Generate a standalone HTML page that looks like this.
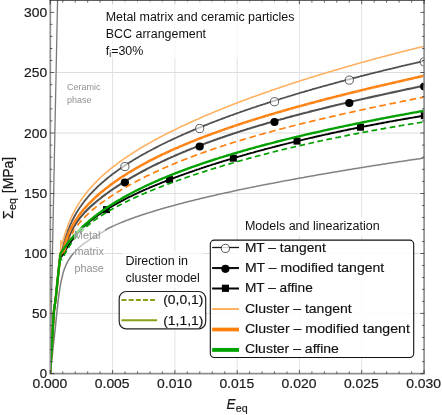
<!DOCTYPE html>
<html><head><meta charset="utf-8"><title>chart</title><style>html,body{margin:0;padding:0;background:#fff}body{width:442px;height:415px;overflow:hidden;font-family:"Liberation Sans",sans-serif}</style></head><body>
<svg width="442" height="415" viewBox="0 0 442 415" style="position:absolute;left:0;top:0;display:block;will-change:transform;font-family:'Liberation Sans',sans-serif">
<rect width="442" height="415" fill="#fff"/>
<defs><clipPath id="c"><rect x="50.2" y="0" width="374.3" height="373.6"/></clipPath></defs>
<path d="M112.6,0V373.5M174.9,0V373.5M237.2,0V373.5M299.4,0V373.5M361.7,0V373.5" stroke="#e2e2e2" stroke-width="1" fill="none"/>
<path d="M50.5,72.5H424.5M50.5,133.0H424.5M50.5,193.5H424.5M50.5,253.5H424.5M50.5,313.4H424.5" stroke="#dedede" stroke-width="1" fill="none"/>
<g clip-path="url(#c)" fill="none" stroke-linejoin="round">
<path d="M50.0,373.6L57.6,-2" stroke="#7a7a7a" stroke-width="1.3"/>
<path d="M50.2,373.6 L50.3,372.4 L50.5,371.1 L50.6,369.9 L50.8,368.6 L50.9,367.4 L51.0,366.1 L51.2,364.9 L51.3,363.7 L51.5,362.4 L51.6,361.2 L51.7,359.9 L51.9,358.7 L52.0,357.4 L52.1,356.2 L52.3,354.9 L52.4,353.7 L52.6,352.5 L52.7,351.2 L52.8,350.0 L53.0,348.7 L53.1,347.5 L53.3,346.2 L53.4,345.0 L53.5,343.8 L53.7,342.5 L53.8,341.3 L53.9,340.0 L54.1,338.8 L54.2,337.5 L54.4,336.3 L54.5,335.0 L54.6,333.8 L54.8,332.6 L54.9,331.3 L55.0,330.1 L55.2,328.8 L55.3,327.6 L55.4,326.3 L55.6,325.1 L55.7,323.8 L55.8,322.6 L55.9,321.4 L56.1,320.1 L56.2,318.9 L56.3,317.6 L56.4,316.4 L56.6,315.1 L56.7,313.9 L56.8,312.6 L57.0,311.4 L57.1,310.1 L57.2,308.9 L57.4,307.7 L57.5,306.4 L57.7,305.2 L57.8,303.9 L57.9,302.7 L58.1,301.4 L58.2,300.2 L58.4,299.0 L58.5,297.7 L58.7,296.5 L58.9,295.2 L59.0,294.0 L59.2,292.8 L59.4,291.5 L59.6,290.3 L59.8,289.0 L59.9,287.8 L60.1,286.6 L60.4,285.3 L60.6,284.1 L60.8,282.9 L61.1,281.7 L61.3,280.4 L61.6,279.2 L61.9,278.0 L62.2,276.8 L62.5,275.5 L62.8,274.3 L63.1,273.1 L63.4,271.9 L63.8,270.7 L64.2,269.5 L64.6,268.4 L65.1,267.2 L65.6,266.0 L66.1,264.9 L66.6,263.8 L67.2,262.6 L67.7,261.5 L68.4,260.4 L69.0,259.4 L69.7,258.3 L70.4,257.3 L71.1,256.3 L71.9,255.3 L72.7,254.3 L73.5,253.4 L74.3,252.4 L75.2,251.5 L76.0,250.6 L76.9,249.6 L77.8,248.8 L78.7,247.9 L79.6,247.1 L80.5,246.2 L81.5,245.5 L82.5,244.7 L83.5,243.9 L84.5,243.2 L85.5,242.5 L86.6,241.8 L87.6,241.1 L88.6,240.4 L89.7,239.7 L90.8,239.0 L91.8,238.4 L92.9,237.8 L94.0,237.2 L95.1,236.6 L96.2,236.0 L97.3,235.4 L98.4,234.7 L99.5,234.1 L100.5,233.4 L101.5,232.7 L102.6,232.0 L103.6,231.3 L104.7,230.6 L105.7,229.9 L106.8,229.2 L107.9,228.6 L109.0,228.0 L110.1,227.5 L111.2,227.0 L112.4,226.4 L113.5,225.9 L114.6,225.4 L115.8,224.9 L116.9,224.4 L118.1,223.9 L119.2,223.4 L120.4,222.9 L121.5,222.4 L122.7,222.0 L123.9,221.5 L125.0,221.0 L126.2,220.6 L127.4,220.1 L128.5,219.7 L129.7,219.3 L130.9,218.8 L132.0,218.4 L133.2,218.0 L134.4,217.5 L135.6,217.1 L136.8,216.7 L137.9,216.3 L139.1,215.9 L140.3,215.5 L141.5,215.1 L142.7,214.7 L143.9,214.3 L145.1,213.9 L146.3,213.5 L147.4,213.1 L148.6,212.8 L149.8,212.4 L151.0,212.0 L152.2,211.7 L153.4,211.3 L154.6,210.9 L155.8,210.6 L157.0,210.2 L158.2,209.8 L159.4,209.5 L160.6,209.1 L161.8,208.8 L163.0,208.4 L164.2,208.1 L165.4,207.7 L166.6,207.4 L167.8,207.1 L169.0,206.7 L170.2,206.4 L171.5,206.1 L172.7,205.7 L173.9,205.4 L175.1,205.1 L176.3,204.7 L177.5,204.4 L178.7,204.1 L179.9,203.8 L181.1,203.5 L182.3,203.2 L183.5,202.8 L184.8,202.5 L186.0,202.2 L187.2,201.9 L188.4,201.6 L189.6,201.3 L190.8,201.0 L192.0,200.7 L193.2,200.4 L194.5,200.1 L195.7,199.8 L196.9,199.5 L198.1,199.2 L199.3,198.9 L200.5,198.6 L201.8,198.3 L203.0,198.0 L204.2,197.7 L205.4,197.4 L206.6,197.1 L207.8,196.9 L209.1,196.6 L210.3,196.3 L211.5,196.0 L212.7,195.7 L213.9,195.5 L215.2,195.2 L216.4,194.9 L217.6,194.6 L218.8,194.3 L220.0,194.1 L221.3,193.8 L222.5,193.5 L223.7,193.3 L224.9,193.0 L226.2,192.7 L227.4,192.5 L228.6,192.2 L229.8,191.9 L231.0,191.7 L232.3,191.4 L233.5,191.1 L234.7,190.9 L235.9,190.6 L237.2,190.3 L238.4,190.1 L239.6,189.8 L240.8,189.6 L242.1,189.3 L243.3,189.1 L244.5,188.8 L245.7,188.6 L247.0,188.3 L248.2,188.0 L249.4,187.8 L250.6,187.5 L251.9,187.3 L253.1,187.0 L254.3,186.8 L255.5,186.6 L256.8,186.3 L258.0,186.1 L259.2,185.8 L260.5,185.6 L261.7,185.3 L262.9,185.1 L264.1,184.8 L265.4,184.6 L266.6,184.4 L267.8,184.1 L269.1,183.9 L270.3,183.6 L271.5,183.4 L272.7,183.2 L274.0,182.9 L275.2,182.7 L276.4,182.5 L277.7,182.2 L278.9,182.0 L280.1,181.8 L281.3,181.5 L282.6,181.3 L283.8,181.1 L285.0,180.8 L286.3,180.6 L287.5,180.4 L288.7,180.2 L290.0,179.9 L291.2,179.7 L292.4,179.5 L293.6,179.2 L294.9,179.0 L296.1,178.8 L297.3,178.6 L298.6,178.3 L299.8,178.1 L301.0,177.9 L302.3,177.7 L303.5,177.5 L304.7,177.2 L306.0,177.0 L307.2,176.8 L308.4,176.6 L309.7,176.4 L310.9,176.1 L312.1,175.9 L313.4,175.7 L314.6,175.5 L315.8,175.3 L317.1,175.1 L318.3,174.8 L319.5,174.6 L320.8,174.4 L322.0,174.2 L323.2,174.0 L324.5,173.8 L325.7,173.6 L326.9,173.4 L328.2,173.1 L329.4,172.9 L330.6,172.7 L331.9,172.5 L333.1,172.3 L334.3,172.1 L335.6,171.9 L336.8,171.7 L338.0,171.5 L339.3,171.3 L340.5,171.1 L341.7,170.9 L343.0,170.6 L344.2,170.4 L345.4,170.2 L346.7,170.0 L347.9,169.8 L349.1,169.6 L350.4,169.4 L351.6,169.2 L352.8,169.0 L354.1,168.8 L355.3,168.6 L356.5,168.4 L357.8,168.2 L359.0,168.0 L360.3,167.8 L361.5,167.6 L362.7,167.4 L364.0,167.2 L365.2,167.0 L366.4,166.8 L367.7,166.6 L368.9,166.4 L370.1,166.2 L371.4,166.0 L372.6,165.8 L373.8,165.6 L375.1,165.5 L376.3,165.3 L377.6,165.1 L378.8,164.9 L380.0,164.7 L381.3,164.5 L382.5,164.3 L383.7,164.1 L385.0,163.9 L386.2,163.7 L387.4,163.5 L388.7,163.3 L389.9,163.1 L391.2,163.0 L392.4,162.8 L393.6,162.6 L394.9,162.4 L396.1,162.2 L397.3,162.0 L398.6,161.8 L399.8,161.6 L401.1,161.4 L402.3,161.3 L403.5,161.1 L404.8,160.9 L406.0,160.7 L407.2,160.5 L408.5,160.3 L409.7,160.1 L411.0,160.0 L412.2,159.8 L413.4,159.6 L414.7,159.4 L415.9,159.2 L417.1,159.0 L418.4,158.9 L419.6,158.7 L420.9,158.5 L422.1,158.3 L423.3,158.1 L424.6,157.9 L425.8,157.8 L427.0,157.6 L428.3,157.4 L429.5,157.2 L430.8,157.0 L432.0,156.9" stroke="#828282" stroke-width="1.55"/>
<path d="M50.2,373.6 L50.3,372.5 L50.3,371.3 L50.4,370.2 L50.5,369.1 L50.5,367.9 L50.6,366.8 L50.7,365.7 L50.7,364.6 L50.8,363.4 L50.9,362.3 L50.9,361.2 L51.0,360.0 L51.1,358.9 L51.1,357.8 L51.2,356.6 L51.3,355.5 L51.3,354.4 L51.4,353.2 L51.5,352.1 L51.5,351.0 L51.6,349.8 L51.7,348.7 L51.7,347.6 L51.8,346.5 L51.9,345.3 L51.9,344.2 L52.0,343.1 L52.1,341.9 L52.2,340.8 L52.2,339.7 L52.3,338.5 L52.4,337.4 L52.4,336.3 L52.5,335.1 L52.5,334.0 L52.6,332.9 L52.7,331.7 L52.7,330.6 L52.8,329.5 L52.8,328.3 L52.9,327.2 L53.0,326.1 L53.0,324.9 L53.1,323.8 L53.2,322.7 L53.2,321.6 L53.3,320.4 L53.4,319.3 L53.4,318.2 L53.5,317.0 L53.6,315.9 L53.7,314.8 L53.8,313.6 L53.9,312.5 L54.0,311.4 L54.1,310.3 L54.2,309.1 L54.3,308.0 L54.5,306.9 L54.7,305.8 L54.8,304.7 L55.0,303.5 L55.2,302.4 L55.3,301.3 L55.5,300.2 L55.6,299.0 L55.7,297.9 L55.9,296.8 L56.0,295.7 L56.1,294.5 L56.2,293.4 L56.3,292.3 L56.5,291.2 L56.6,290.0 L56.7,288.9 L56.8,287.8 L56.9,286.6 L57.0,285.5 L57.2,284.4 L57.3,283.3 L57.4,282.1 L57.5,281.0 L57.6,279.9 L57.8,278.8 L57.9,277.6 L58.0,276.5 L58.1,275.4 L58.2,274.2 L58.4,273.1 L58.5,272.0 L58.6,270.9 L58.7,269.7 L58.8,268.6 L59.0,267.5 L59.1,266.4 L59.2,265.2 L59.3,264.1 L59.5,263.0 L59.6,261.9 L59.7,260.7 L59.8,259.6 L59.9,258.4 L60.0,257.1 L60.1,255.8 L60.3,254.7 L60.5,253.8 L61.1,253.2 L61.5,252.1 L61.8,251.0 L62.1,249.9 L62.4,248.8 L62.7,247.7 L63.0,246.6 L63.3,245.5 L63.6,244.4 L63.9,243.3 L64.2,242.2 L64.5,241.1 L64.8,240.1 L65.1,239.0 L65.5,237.9 L65.8,236.8 L66.2,235.7 L66.5,234.6 L66.9,233.6 L67.3,232.5 L67.6,231.4 L68.0,230.4 L68.4,229.3 L68.9,228.3 L69.3,227.2 L69.7,226.2 L70.2,225.1 L70.6,224.1 L71.1,223.1 L71.6,222.0 L72.0,221.0 L72.5,220.0 L73.1,219.0 L73.6,218.0 L74.1,217.0 L74.6,216.0 L75.2,215.0 L75.8,214.0 L76.3,213.0 L76.9,212.1 L77.5,211.1 L78.1,210.1 L78.7,209.2 L79.3,208.2 L80.0,207.3 L80.6,206.4 L81.3,205.4 L81.9,204.5 L82.6,203.6 L83.3,202.7 L84.0,201.8 L84.7,200.9 L85.4,200.0 L86.1,199.1 L86.8,198.3 L87.5,197.4 L88.3,196.5 L89.0,195.7 L89.8,194.8 L90.5,194.0 L91.3,193.2 L92.1,192.3 L92.9,191.5 L93.7,190.7 L94.5,189.9 L95.3,189.1 L96.1,188.3 L96.9,187.5 L97.7,186.7 L98.5,185.9 L99.4,185.2 L100.2,184.4 L101.0,183.7 L101.9,182.9 L102.7,182.2 L103.6,181.4 L104.5,180.7 L105.3,180.0 L106.2,179.2 L107.1,178.5 L107.9,177.8 L108.8,177.1 L109.7,176.4 L110.6,175.7 L111.5,175.0 L112.4,174.3 L113.3,173.6 L114.2,173.0 L115.1,172.3 L116.1,171.6 L117.0,170.9 L117.9,170.3 L118.8,169.6 L119.7,169.0 L120.7,168.3 L121.6,167.7 L122.6,167.1 L123.5,166.4 L124.4,165.8 L125.4,165.2 L126.3,164.6 L127.3,163.9 L128.2,163.3 L129.2,162.7 L130.1,162.1 L131.1,161.5 L132.1,160.9 L133.0,160.3 L134.0,159.7 L135.0,159.1 L135.9,158.6 L136.9,158.0 L137.9,157.4 L138.9,156.8 L139.9,156.3 L140.8,155.7 L141.8,155.1 L142.8,154.6 L143.8,154.0 L144.8,153.5 L145.8,152.9 L146.8,152.4 L147.8,151.8 L148.8,151.3 L149.8,150.8 L150.8,150.2 L151.8,149.7 L152.8,149.2 L153.8,148.6 L154.8,148.1 L155.8,147.6 L156.8,147.1 L157.8,146.6 L158.8,146.0 L159.8,145.5 L160.8,145.0 L161.8,144.5 L162.8,144.0 L163.9,143.5 L164.9,143.0 L165.9,142.5 L166.9,142.0 L167.9,141.5 L169.0,141.0 L170.0,140.6 L171.0,140.1 L172.0,139.6 L173.1,139.1 L174.1,138.6 L175.1,138.2 L176.2,137.7 L177.2,137.2 L178.2,136.7 L179.2,136.3 L180.3,135.8 L181.3,135.4 L182.3,134.9 L183.4,134.4 L184.4,134.0 L185.5,133.5 L186.5,133.1 L187.5,132.6 L188.6,132.2 L189.6,131.7 L190.7,131.3 L191.7,130.8 L192.7,130.4 L193.8,129.9 L194.8,129.5 L195.9,129.1 L196.9,128.6 L198.0,128.2 L199.0,127.8 L200.1,127.3 L201.1,126.9 L202.2,126.5 L203.2,126.1 L204.3,125.6 L205.3,125.2 L206.4,124.8 L207.4,124.4 L208.5,124.0 L209.5,123.5 L210.6,123.1 L211.6,122.7 L212.7,122.3 L213.8,121.9 L214.8,121.5 L215.9,121.1 L216.9,120.7 L218.0,120.3 L219.0,119.9 L220.1,119.5 L221.2,119.1 L222.2,118.7 L223.3,118.3 L224.4,117.9 L225.4,117.5 L226.5,117.1 L227.5,116.7 L228.6,116.3 L229.7,115.9 L230.7,115.5 L231.8,115.2 L232.9,114.8 L233.9,114.4 L235.0,114.0 L236.1,113.6 L237.1,113.2 L238.2,112.9 L239.3,112.5 L240.3,112.1 L241.4,111.7 L242.5,111.4 L243.5,111.0 L244.6,110.6 L245.7,110.2 L246.8,109.9 L247.8,109.5 L248.9,109.1 L250.0,108.8 L251.0,108.4 L252.1,108.0 L253.2,107.7 L254.3,107.3 L255.3,107.0 L256.4,106.6 L257.5,106.2 L258.6,105.9 L259.6,105.5 L260.7,105.2 L261.8,104.8 L262.9,104.5 L263.9,104.1 L265.0,103.8 L266.1,103.4 L267.2,103.1 L268.3,102.7 L269.3,102.4 L270.4,102.0 L271.5,101.7 L272.6,101.3 L273.7,101.0 L274.7,100.7 L275.8,100.3 L276.9,100.0 L278.0,99.6 L279.1,99.3 L280.1,99.0 L281.2,98.6 L282.3,98.3 L283.4,98.0 L284.5,97.6 L285.6,97.3 L286.6,97.0 L287.7,96.6 L288.8,96.3 L289.9,96.0 L291.0,95.6 L292.1,95.3 L293.1,95.0 L294.2,94.7 L295.3,94.3 L296.4,94.0 L297.5,93.7 L298.6,93.4 L299.7,93.0 L300.7,92.7 L301.8,92.4 L302.9,92.1 L304.0,91.8 L305.1,91.4 L306.2,91.1 L307.3,90.8 L308.4,90.5 L309.5,90.2 L310.5,89.9 L311.6,89.6 L312.7,89.2 L313.8,88.9 L314.9,88.6 L316.0,88.3 L317.1,88.0 L318.2,87.7 L319.3,87.4 L320.3,87.1 L321.4,86.8 L322.5,86.5 L323.6,86.2 L324.7,85.9 L325.8,85.6 L326.9,85.3 L328.0,85.0 L329.1,84.7 L330.2,84.4 L331.3,84.1 L332.4,83.8 L333.5,83.5 L334.5,83.2 L335.6,82.9 L336.7,82.6 L337.8,82.3 L338.9,82.0 L340.0,81.7 L341.1,81.4 L342.2,81.1 L343.3,80.8 L344.4,80.5 L345.5,80.2 L346.6,79.9 L347.7,79.6 L348.8,79.4 L349.9,79.1 L351.0,78.8 L352.1,78.5 L353.2,78.2 L354.3,77.9 L355.4,77.6 L356.5,77.4 L357.5,77.1 L358.6,76.8 L359.7,76.5 L360.8,76.2 L361.9,75.9 L363.0,75.7 L364.1,75.4 L365.2,75.1 L366.3,74.8 L367.4,74.5 L368.5,74.3 L369.6,74.0 L370.7,73.7 L371.8,73.4 L372.9,73.2 L374.0,72.9 L375.1,72.6 L376.2,72.3 L377.3,72.1 L378.4,71.8 L379.5,71.5 L380.6,71.3 L381.7,71.0 L382.8,70.7 L383.9,70.4 L385.0,70.2 L386.1,69.9 L387.2,69.6 L388.3,69.4 L389.4,69.1 L390.5,68.8 L391.6,68.6 L392.7,68.3 L393.8,68.0 L394.9,67.8 L396.0,67.5 L397.1,67.3 L398.2,67.0 L399.3,66.7 L400.4,66.5 L401.5,66.2 L402.7,65.9 L403.8,65.7 L404.9,65.4 L406.0,65.2 L407.1,64.9 L408.2,64.6 L409.3,64.4 L410.4,64.1 L411.5,63.9 L412.6,63.6 L413.7,63.4 L414.8,63.1 L415.9,62.9 L417.0,62.6 L418.1,62.3 L419.2,62.1 L420.3,61.8 L421.4,61.6 L422.5,61.3 L423.6,61.1 L424.7,60.8 L425.8,60.6 L426.9,60.3 L428.0,60.1 L429.2,59.8 L430.3,59.6 L431.4,59.3 L432.5,59.1 L433.6,58.8 L434.7,58.6 L435.8,58.4 L436.9,58.1 L438.0,57.9" stroke="#505050" stroke-width="1.8"/>
<path d="M50.2,373.6 L50.3,372.5 L50.3,371.4 L50.4,370.3 L50.5,369.2 L50.5,368.1 L50.6,367.0 L50.7,365.9 L50.7,364.8 L50.8,363.7 L50.8,362.6 L50.9,361.5 L51.0,360.4 L51.0,359.3 L51.1,358.2 L51.2,357.1 L51.2,356.0 L51.3,354.9 L51.4,353.8 L51.4,352.7 L51.5,351.6 L51.6,350.5 L51.6,349.4 L51.7,348.3 L51.8,347.2 L51.8,346.1 L51.9,345.0 L52.0,343.9 L52.0,342.8 L52.1,341.7 L52.2,340.6 L52.2,339.5 L52.3,338.4 L52.4,337.3 L52.4,336.2 L52.5,335.1 L52.5,334.0 L52.6,332.9 L52.7,331.8 L52.7,330.7 L52.8,329.6 L52.8,328.5 L52.9,327.4 L53.0,326.3 L53.0,325.2 L53.1,324.1 L53.1,323.0 L53.2,321.9 L53.3,320.8 L53.3,319.7 L53.4,318.6 L53.5,317.5 L53.6,316.4 L53.6,315.3 L53.7,314.2 L53.8,313.1 L53.9,312.0 L54.0,310.9 L54.1,309.8 L54.3,308.7 L54.4,307.6 L54.6,306.5 L54.7,305.4 L54.9,304.3 L55.1,303.2 L55.2,302.1 L55.4,301.0 L55.5,299.9 L55.6,298.8 L55.8,297.8 L55.9,296.7 L56.0,295.6 L56.1,294.5 L56.2,293.4 L56.4,292.3 L56.5,291.2 L56.6,290.1 L56.7,289.0 L56.8,287.9 L56.9,286.8 L57.0,285.7 L57.1,284.6 L57.2,283.5 L57.4,282.4 L57.5,281.3 L57.6,280.2 L57.7,279.1 L57.8,278.0 L57.9,276.9 L58.1,275.8 L58.2,274.7 L58.3,273.6 L58.4,272.5 L58.5,271.4 L58.7,270.3 L58.8,269.2 L58.9,268.1 L59.0,267.0 L59.1,266.0 L59.3,264.9 L59.4,263.8 L59.5,262.7 L59.6,261.6 L59.7,260.5 L59.9,259.3 L60.0,257.9 L60.0,256.5 L60.1,255.2 L60.3,254.1 L60.5,253.5 L61.3,253.5 L62.4,253.4 L63.2,252.7 L63.8,251.7 L64.2,250.7 L64.6,249.7 L65.0,248.7 L65.3,247.6 L65.7,246.6 L66.0,245.5 L66.4,244.5 L66.7,243.4 L67.1,242.4 L67.5,241.3 L67.8,240.3 L68.2,239.3 L68.6,238.2 L69.0,237.2 L69.4,236.2 L69.8,235.2 L70.2,234.1 L70.7,233.1 L71.2,232.1 L71.6,231.1 L72.1,230.2 L72.6,229.2 L73.1,228.2 L73.7,227.2 L74.2,226.3 L74.8,225.3 L75.4,224.4 L76.0,223.5 L76.6,222.6 L77.2,221.6 L77.9,220.7 L78.5,219.9 L79.2,219.0 L79.8,218.1 L80.5,217.2 L81.2,216.4 L81.9,215.6 L82.7,214.7 L83.4,213.9 L84.1,213.1 L84.9,212.3 L85.7,211.5 L86.4,210.7 L87.2,209.9 L88.0,209.1 L88.8,208.4 L89.6,207.6 L90.4,206.8 L91.2,206.1 L92.0,205.4 L92.8,204.6 L93.7,203.9 L94.5,203.2 L95.3,202.5 L96.2,201.7 L97.0,201.0 L97.9,200.3 L98.7,199.6 L99.6,199.0 L100.5,198.3 L101.3,197.6 L102.2,196.9 L103.1,196.2 L104.0,195.6 L104.8,194.9 L105.7,194.3 L106.6,193.6 L107.5,193.0 L108.4,192.3 L109.3,191.7 L110.2,191.0 L111.1,190.4 L112.0,189.8 L112.9,189.2 L113.8,188.5 L114.7,187.9 L115.7,187.3 L116.6,186.7 L117.5,186.1 L118.4,185.5 L119.4,184.9 L120.3,184.3 L121.2,183.7 L122.1,183.1 L123.1,182.6 L124.0,182.0 L125.0,181.4 L125.9,180.8 L126.8,180.2 L127.8,179.7 L128.7,179.1 L129.7,178.5 L130.6,178.0 L131.6,177.4 L132.5,176.9 L133.5,176.3 L134.5,175.8 L135.4,175.2 L136.4,174.7 L137.3,174.2 L138.3,173.6 L139.3,173.1 L140.2,172.6 L141.2,172.0 L142.2,171.5 L143.1,171.0 L144.1,170.5 L145.1,170.0 L146.1,169.5 L147.0,168.9 L148.0,168.4 L149.0,167.9 L150.0,167.4 L151.0,166.9 L152.0,166.4 L152.9,165.9 L153.9,165.4 L154.9,165.0 L155.9,164.5 L156.9,164.0 L157.9,163.5 L158.9,163.0 L159.9,162.6 L160.9,162.1 L161.9,161.6 L162.9,161.1 L163.9,160.7 L164.9,160.2 L165.9,159.7 L166.9,159.3 L167.9,158.8 L168.9,158.4 L169.9,157.9 L170.9,157.5 L171.9,157.0 L172.9,156.6 L173.9,156.1 L174.9,155.7 L175.9,155.2 L176.9,154.8 L178.0,154.4 L179.0,153.9 L180.0,153.5 L181.0,153.1 L182.0,152.6 L183.0,152.2 L184.0,151.8 L185.1,151.4 L186.1,150.9 L187.1,150.5 L188.1,150.1 L189.1,149.7 L190.2,149.3 L191.2,148.9 L192.2,148.5 L193.2,148.1 L194.3,147.6 L195.3,147.2 L196.3,146.8 L197.4,146.4 L198.4,146.0 L199.4,145.7 L200.4,145.3 L201.5,144.9 L202.5,144.5 L203.5,144.1 L204.6,143.7 L205.6,143.3 L206.6,142.9 L207.7,142.5 L208.7,142.2 L209.7,141.8 L210.8,141.4 L211.8,141.0 L212.8,140.7 L213.9,140.3 L214.9,139.9 L216.0,139.6 L217.0,139.2 L218.0,138.8 L219.1,138.5 L220.1,138.1 L221.2,137.7 L222.2,137.4 L223.3,137.0 L224.3,136.7 L225.3,136.3 L226.4,135.9 L227.4,135.6 L228.5,135.2 L229.5,134.9 L230.6,134.5 L231.6,134.2 L232.7,133.8 L233.7,133.5 L234.8,133.2 L235.8,132.8 L236.9,132.5 L237.9,132.1 L239.0,131.8 L240.0,131.5 L241.1,131.1 L242.1,130.8 L243.2,130.5 L244.2,130.1 L245.3,129.8 L246.3,129.5 L247.4,129.1 L248.4,128.8 L249.5,128.5 L250.5,128.2 L251.6,127.8 L252.6,127.5 L253.7,127.2 L254.7,126.9 L255.8,126.6 L256.9,126.3 L257.9,125.9 L259.0,125.6 L260.0,125.3 L261.1,125.0 L262.1,124.7 L263.2,124.4 L264.3,124.1 L265.3,123.8 L266.4,123.4 L267.4,123.1 L268.5,122.8 L269.6,122.5 L270.6,122.2 L271.7,121.9 L272.7,121.6 L273.8,121.3 L274.9,121.0 L275.9,120.7 L277.0,120.4 L278.0,120.1 L279.1,119.8 L280.2,119.5 L281.2,119.2 L282.3,119.0 L283.4,118.7 L284.4,118.4 L285.5,118.1 L286.5,117.8 L287.6,117.5 L288.7,117.2 L289.7,116.9 L290.8,116.6 L291.9,116.4 L292.9,116.1 L294.0,115.8 L295.1,115.5 L296.1,115.2 L297.2,114.9 L298.3,114.7 L299.3,114.4 L300.4,114.1 L301.5,113.8 L302.5,113.6 L303.6,113.3 L304.7,113.0 L305.7,112.7 L306.8,112.5 L307.9,112.2 L308.9,111.9 L310.0,111.6 L311.1,111.4 L312.1,111.1 L313.2,110.8 L314.3,110.6 L315.4,110.3 L316.4,110.0 L317.5,109.7 L318.6,109.5 L319.6,109.2 L320.7,109.0 L321.8,108.7 L322.8,108.4 L323.9,108.2 L325.0,107.9 L326.1,107.6 L327.1,107.4 L328.2,107.1 L329.3,106.9 L330.3,106.6 L331.4,106.3 L332.5,106.1 L333.6,105.8 L334.6,105.6 L335.7,105.3 L336.8,105.0 L337.8,104.8 L338.9,104.5 L340.0,104.3 L341.1,104.0 L342.1,103.8 L343.2,103.5 L344.3,103.3 L345.4,103.0 L346.4,102.8 L347.5,102.5 L348.6,102.3 L349.7,102.0 L350.7,101.8 L351.8,101.5 L352.9,101.3 L354.0,101.0 L355.0,100.8 L356.1,100.5 L357.2,100.3 L358.3,100.0 L359.3,99.8 L360.4,99.5 L361.5,99.3 L362.6,99.0 L363.6,98.8 L364.7,98.6 L365.8,98.3 L366.9,98.1 L367.9,97.8 L369.0,97.6 L370.1,97.4 L371.2,97.1 L372.2,96.9 L373.3,96.6 L374.4,96.4 L375.5,96.1 L376.5,95.9 L377.6,95.7 L378.7,95.4 L379.8,95.2 L380.8,95.0 L381.9,94.7 L383.0,94.5 L384.1,94.2 L385.2,94.0 L386.2,93.8 L387.3,93.5 L388.4,93.3 L389.5,93.1 L390.5,92.8 L391.6,92.6 L392.7,92.4 L393.8,92.1 L394.8,91.9 L395.9,91.7 L397.0,91.4 L398.1,91.2 L399.2,91.0 L400.2,90.7 L401.3,90.5 L402.4,90.3 L403.5,90.0 L404.5,89.8 L405.6,89.6 L406.7,89.3 L407.8,89.1 L408.9,88.9 L409.9,88.7 L411.0,88.4 L412.1,88.2 L413.2,88.0 L414.3,87.7 L415.3,87.5 L416.4,87.3 L417.5,87.1 L418.6,86.8 L419.7,86.6 L420.7,86.4 L421.8,86.2 L422.9,85.9 L424.0,85.7 L425.0,85.5 L426.1,85.2 L427.2,85.0 L428.3,84.8 L429.4,84.6 L430.4,84.3 L431.5,84.1 L432.6,83.9 L433.7,83.7 L434.8,83.4 L435.8,83.2 L436.9,83.0 L438.0,82.8" stroke="#505050" stroke-width="2.1"/>
<path d="M50.2,373.6 L50.3,372.5 L50.3,371.5 L50.4,370.4 L50.4,369.4 L50.5,368.3 L50.6,367.2 L50.6,366.2 L50.7,365.1 L50.8,364.0 L50.8,363.0 L50.9,361.9 L50.9,360.9 L51.0,359.8 L51.1,358.7 L51.1,357.7 L51.2,356.6 L51.3,355.5 L51.3,354.5 L51.4,353.4 L51.5,352.4 L51.5,351.3 L51.6,350.2 L51.6,349.2 L51.7,348.1 L51.8,347.1 L51.8,346.0 L51.9,344.9 L52.0,343.9 L52.0,342.8 L52.1,341.7 L52.2,340.7 L52.2,339.6 L52.3,338.6 L52.3,337.5 L52.4,336.4 L52.5,335.4 L52.5,334.3 L52.6,333.2 L52.6,332.2 L52.7,331.1 L52.7,330.1 L52.8,329.0 L52.9,327.9 L52.9,326.9 L53.0,325.8 L53.0,324.7 L53.1,323.7 L53.2,322.6 L53.2,321.6 L53.3,320.5 L53.4,319.4 L53.4,318.4 L53.5,317.3 L53.6,316.3 L53.7,315.2 L53.7,314.1 L53.8,313.1 L53.9,312.0 L54.0,311.0 L54.1,309.9 L54.2,308.9 L54.4,307.8 L54.5,306.7 L54.7,305.7 L54.8,304.6 L55.0,303.6 L55.2,302.5 L55.3,301.5 L55.4,300.4 L55.6,299.4 L55.7,298.3 L55.8,297.3 L55.9,296.2 L56.0,295.1 L56.2,294.1 L56.3,293.0 L56.4,292.0 L56.5,290.9 L56.6,289.9 L56.7,288.8 L56.8,287.7 L56.9,286.7 L57.0,285.6 L57.1,284.6 L57.2,283.5 L57.4,282.4 L57.5,281.4 L57.6,280.3 L57.7,279.3 L57.8,278.2 L57.9,277.2 L58.0,276.1 L58.1,275.0 L58.2,274.0 L58.3,272.9 L58.5,271.9 L58.6,270.8 L58.7,269.8 L58.8,268.7 L59.0,267.6 L59.1,266.5 L59.2,265.4 L59.3,264.2 L59.4,263.1 L59.5,262.0 L59.6,260.9 L59.8,259.9 L60.0,258.9 L60.3,258.0 L60.8,257.2 L61.6,256.5 L62.2,255.7 L62.8,254.8 L63.4,253.9 L63.9,253.0 L64.4,252.1 L65.0,251.1 L65.5,250.2 L66.0,249.3 L66.6,248.4 L67.1,247.5 L67.7,246.6 L68.2,245.7 L68.8,244.8 L69.4,243.9 L70.0,243.0 L70.6,242.1 L71.2,241.2 L71.8,240.4 L72.4,239.5 L73.1,238.7 L73.7,237.8 L74.4,237.0 L75.0,236.2 L75.7,235.3 L76.4,234.5 L77.1,233.7 L77.8,232.9 L78.5,232.1 L79.2,231.3 L80.0,230.6 L80.7,229.8 L81.5,229.1 L82.2,228.3 L83.0,227.6 L83.7,226.8 L84.5,226.1 L85.3,225.4 L86.1,224.7 L86.9,224.0 L87.7,223.3 L88.5,222.6 L89.3,221.9 L90.1,221.2 L91.0,220.5 L91.8,219.9 L92.6,219.2 L93.5,218.6 L94.3,217.9 L95.2,217.3 L96.0,216.7 L96.9,216.0 L97.8,215.4 L98.6,214.8 L99.5,214.2 L100.4,213.6 L101.3,213.0 L102.1,212.4 L103.0,211.8 L103.9,211.3 L104.8,210.7 L105.7,210.1 L106.6,209.5 L107.5,209.0 L108.4,208.4 L109.3,207.9 L110.2,207.3 L111.2,206.8 L112.1,206.2 L113.0,205.7 L113.9,205.2 L114.8,204.7 L115.8,204.1 L116.7,203.6 L117.6,203.1 L118.6,202.6 L119.5,202.1 L120.4,201.6 L121.4,201.1 L122.3,200.6 L123.3,200.1 L124.2,199.6 L125.1,199.1 L126.1,198.6 L127.0,198.2 L128.0,197.7 L128.9,197.2 L129.9,196.7 L130.9,196.3 L131.8,195.8 L132.8,195.3 L133.7,194.9 L134.7,194.4 L135.7,194.0 L136.6,193.5 L137.6,193.1 L138.5,192.6 L139.5,192.2 L140.5,191.7 L141.4,191.3 L142.4,190.9 L143.4,190.4 L144.4,190.0 L145.3,189.6 L146.3,189.1 L147.3,188.7 L148.3,188.3 L149.2,187.9 L150.2,187.4 L151.2,187.0 L152.2,186.6 L153.2,186.2 L154.1,185.8 L155.1,185.4 L156.1,185.0 L157.1,184.6 L158.1,184.2 L159.1,183.8 L160.0,183.4 L161.0,183.0 L162.0,182.6 L163.0,182.2 L164.0,181.8 L165.0,181.4 L166.0,181.0 L167.0,180.6 L168.0,180.2 L168.9,179.9 L169.9,179.5 L170.9,179.1 L171.9,178.7 L172.9,178.3 L173.9,178.0 L174.9,177.6 L175.9,177.2 L176.9,176.8 L177.9,176.5 L178.9,176.1 L179.9,175.7 L180.9,175.4 L181.9,175.0 L182.9,174.7 L183.9,174.3 L184.9,173.9 L185.9,173.6 L186.9,173.2 L187.9,172.9 L188.9,172.5 L189.9,172.2 L190.9,171.8 L191.9,171.5 L192.9,171.1 L193.9,170.8 L194.9,170.4 L195.9,170.1 L196.9,169.7 L198.0,169.4 L199.0,169.1 L200.0,168.7 L201.0,168.4 L202.0,168.0 L203.0,167.7 L204.0,167.4 L205.0,167.0 L206.0,166.7 L207.0,166.4 L208.0,166.0 L209.1,165.7 L210.1,165.4 L211.1,165.1 L212.1,164.7 L213.1,164.4 L214.1,164.1 L215.1,163.8 L216.2,163.4 L217.2,163.1 L218.2,162.8 L219.2,162.5 L220.2,162.2 L221.2,161.9 L222.2,161.5 L223.3,161.2 L224.3,160.9 L225.3,160.6 L226.3,160.3 L227.3,160.0 L228.3,159.7 L229.4,159.4 L230.4,159.1 L231.4,158.8 L232.4,158.5 L233.4,158.2 L234.5,157.9 L235.5,157.5 L236.5,157.2 L237.5,157.0 L238.5,156.7 L239.6,156.4 L240.6,156.1 L241.6,155.8 L242.6,155.5 L243.7,155.2 L244.7,154.9 L245.7,154.6 L246.7,154.3 L247.7,154.0 L248.8,153.7 L249.8,153.4 L250.8,153.1 L251.8,152.9 L252.9,152.6 L253.9,152.3 L254.9,152.0 L255.9,151.7 L257.0,151.4 L258.0,151.2 L259.0,150.9 L260.0,150.6 L261.1,150.3 L262.1,150.1 L263.1,149.8 L264.2,149.5 L265.2,149.2 L266.2,148.9 L267.2,148.7 L268.3,148.4 L269.3,148.1 L270.3,147.9 L271.4,147.6 L272.4,147.3 L273.4,147.1 L274.4,146.8 L275.5,146.5 L276.5,146.3 L277.5,146.0 L278.6,145.7 L279.6,145.5 L280.6,145.2 L281.7,144.9 L282.7,144.7 L283.7,144.4 L284.7,144.2 L285.8,143.9 L286.8,143.6 L287.8,143.4 L288.9,143.1 L289.9,142.9 L290.9,142.6 L292.0,142.4 L293.0,142.1 L294.0,141.9 L295.1,141.6 L296.1,141.4 L297.1,141.1 L298.2,140.9 L299.2,140.6 L300.2,140.4 L301.3,140.1 L302.3,139.9 L303.3,139.6 L304.4,139.4 L305.4,139.1 L306.5,138.9 L307.5,138.7 L308.5,138.4 L309.6,138.2 L310.6,137.9 L311.6,137.7 L312.7,137.5 L313.7,137.2 L314.7,137.0 L315.8,136.7 L316.8,136.5 L317.9,136.3 L318.9,136.0 L319.9,135.8 L321.0,135.6 L322.0,135.3 L323.0,135.1 L324.1,134.9 L325.1,134.6 L326.2,134.4 L327.2,134.2 L328.2,134.0 L329.3,133.7 L330.3,133.5 L331.4,133.3 L332.4,133.0 L333.4,132.8 L334.5,132.6 L335.5,132.4 L336.5,132.2 L337.6,131.9 L338.6,131.7 L339.7,131.5 L340.7,131.3 L341.8,131.0 L342.8,130.8 L343.8,130.6 L344.9,130.4 L345.9,130.2 L347.0,130.0 L348.0,129.7 L349.0,129.5 L350.1,129.3 L351.1,129.1 L352.2,128.9 L353.2,128.7 L354.3,128.5 L355.3,128.3 L356.3,128.0 L357.4,127.8 L358.4,127.6 L359.5,127.4 L360.5,127.2 L361.6,127.0 L362.6,126.8 L363.6,126.6 L364.7,126.4 L365.7,126.2 L366.8,126.0 L367.8,125.8 L368.9,125.6 L369.9,125.4 L370.9,125.2 L372.0,125.0 L373.0,124.8 L374.1,124.6 L375.1,124.4 L376.2,124.2 L377.2,124.0 L378.3,123.8 L379.3,123.6 L380.3,123.4 L381.4,123.2 L382.4,123.0 L383.5,122.8 L384.5,122.6 L385.6,122.4 L386.6,122.2 L387.7,122.0 L388.7,121.8 L389.8,121.6 L390.8,121.4 L391.9,121.3 L392.9,121.1 L393.9,120.9 L395.0,120.7 L396.0,120.5 L397.1,120.3 L398.1,120.1 L399.2,119.9 L400.2,119.8 L401.3,119.6 L402.3,119.4 L403.4,119.2 L404.4,119.0 L405.5,118.8 L406.5,118.7 L407.6,118.5 L408.6,118.3 L409.7,118.1 L410.7,117.9 L411.8,117.8 L412.8,117.6 L413.9,117.4 L414.9,117.2 L416.0,117.0 L417.0,116.9 L418.1,116.7 L419.1,116.5 L420.1,116.3 L421.2,116.2 L422.2,116.0 L423.3,115.8 L424.3,115.7 L425.4,115.5 L426.4,115.3 L427.5,115.1 L428.5,115.0 L429.6,114.8 L430.6,114.6 L431.7,114.5 L432.7,114.3 L433.8,114.1 L434.8,114.0 L435.9,113.8 L436.9,113.6 L438.0,113.5" stroke="#000" stroke-width="1.9"/>
<circle cx="124.9" cy="166.6" r="4.1" fill="#fff" fill-opacity="0.62" stroke="#333" stroke-width="0.8"/>
<circle cx="124.9" cy="182.5" r="4.1" fill="#000" stroke="none"/>
<circle cx="199.7" cy="128.5" r="4.1" fill="#fff" fill-opacity="0.62" stroke="#333" stroke-width="0.8"/>
<circle cx="199.7" cy="146.5" r="4.1" fill="#000" stroke="none"/>
<circle cx="274.5" cy="101.7" r="4.1" fill="#fff" fill-opacity="0.62" stroke="#333" stroke-width="0.8"/>
<circle cx="274.5" cy="122.0" r="4.1" fill="#000" stroke="none"/>
<circle cx="349.3" cy="80.1" r="4.1" fill="#fff" fill-opacity="0.62" stroke="#333" stroke-width="0.8"/>
<circle cx="349.3" cy="103.0" r="4.1" fill="#000" stroke="none"/>
<circle cx="424.2" cy="61.8" r="4.1" fill="#fff" fill-opacity="0.62" stroke="#333" stroke-width="0.8"/>
<circle cx="424.2" cy="86.5" r="4.1" fill="#000" stroke="none"/>
<rect x="103.0" y="206.1" width="7" height="7" fill="#000" stroke="none"/>
<rect x="166.1" y="176.1" width="7" height="7" fill="#000" stroke="none"/>
<rect x="229.8" y="154.7" width="7" height="7" fill="#000" stroke="none"/>
<rect x="293.5" y="137.6" width="7" height="7" fill="#000" stroke="none"/>
<rect x="357.0" y="123.7" width="7" height="7" fill="#000" stroke="none"/>
<rect x="420.8" y="112.2" width="7" height="7" fill="#000" stroke="none"/>
<path d="M50.2,373.6 L50.3,372.4 L50.3,371.3 L50.4,370.1 L50.5,368.9 L50.5,367.8 L50.6,366.6 L50.7,365.4 L50.7,364.3 L50.8,363.1 L50.9,362.0 L51.0,360.8 L51.0,359.6 L51.1,358.5 L51.2,357.3 L51.2,356.1 L51.3,355.0 L51.4,353.8 L51.4,352.6 L51.5,351.5 L51.6,350.3 L51.6,349.1 L51.7,348.0 L51.8,346.8 L51.9,345.7 L51.9,344.5 L52.0,343.3 L52.1,342.2 L52.1,341.0 L52.2,339.8 L52.3,338.7 L52.3,337.5 L52.4,336.3 L52.5,335.2 L52.5,334.0 L52.6,332.8 L52.7,331.7 L52.7,330.5 L52.8,329.3 L52.8,328.2 L52.9,327.0 L53.0,325.8 L53.0,324.7 L53.1,323.5 L53.2,322.4 L53.2,321.2 L53.3,320.0 L53.4,318.9 L53.5,317.7 L53.6,316.5 L53.6,315.4 L53.7,314.2 L53.8,313.0 L53.9,311.9 L54.0,310.7 L54.1,309.6 L54.3,308.4 L54.4,307.3 L54.6,306.1 L54.8,304.9 L55.0,303.8 L55.1,302.6 L55.3,301.5 L55.5,300.3 L55.6,299.2 L55.7,298.0 L55.9,296.9 L56.0,295.7 L56.1,294.5 L56.2,293.4 L56.4,292.2 L56.5,291.1 L56.6,289.9 L56.7,288.7 L56.8,287.6 L56.9,286.4 L57.1,285.2 L57.2,284.1 L57.3,282.9 L57.4,281.8 L57.6,280.6 L57.7,279.4 L57.8,278.3 L57.9,277.1 L58.0,276.0 L58.2,274.8 L58.3,273.6 L58.4,272.5 L58.5,271.3 L58.7,270.2 L58.8,269.0 L58.9,267.8 L59.1,266.7 L59.2,265.5 L59.3,264.4 L59.4,263.2 L59.6,262.1 L59.7,260.9 L59.8,259.7 L60.0,258.6 L60.2,257.4 L60.3,256.3 L60.5,255.1 L60.6,253.9 L60.6,252.7 L60.7,251.4 L60.7,249.9 L60.8,248.4 L60.8,246.8 L60.8,245.3 L60.8,244.0 L60.9,242.8 L60.9,241.8 L60.9,241.2 L61.0,240.9 L61.1,241.4 L61.1,243.0 L61.3,244.4 L61.8,244.1 L62.2,243.0 L62.5,241.9 L62.9,240.8 L63.2,239.7 L63.5,238.5 L63.9,237.4 L64.2,236.3 L64.6,235.2 L64.9,234.1 L65.3,233.0 L65.6,231.9 L66.0,230.8 L66.4,229.7 L66.8,228.6 L67.2,227.5 L67.6,226.4 L68.0,225.3 L68.4,224.2 L68.8,223.1 L69.3,222.0 L69.7,221.0 L70.2,219.9 L70.7,218.8 L71.1,217.7 L71.6,216.7 L72.1,215.6 L72.6,214.6 L73.2,213.5 L73.7,212.5 L74.2,211.5 L74.8,210.4 L75.3,209.4 L75.9,208.4 L76.5,207.4 L77.1,206.4 L77.7,205.4 L78.3,204.4 L78.9,203.4 L79.5,202.4 L80.2,201.4 L80.8,200.5 L81.5,199.5 L82.1,198.5 L82.8,197.6 L83.5,196.6 L84.2,195.7 L84.9,194.8 L85.6,193.9 L86.3,192.9 L87.1,192.0 L87.8,191.1 L88.5,190.2 L89.3,189.3 L90.0,188.4 L90.8,187.6 L91.6,186.7 L92.4,185.8 L93.2,185.0 L94.0,184.1 L94.8,183.3 L95.6,182.4 L96.4,181.6 L97.2,180.8 L98.0,180.0 L98.9,179.1 L99.7,178.3 L100.6,177.5 L101.4,176.7 L102.3,176.0 L103.2,175.2 L104.0,174.4 L104.9,173.6 L105.8,172.9 L106.7,172.1 L107.6,171.3 L108.4,170.6 L109.3,169.9 L110.3,169.1 L111.2,168.4 L112.1,167.7 L113.0,166.9 L113.9,166.2 L114.8,165.5 L115.8,164.8 L116.7,164.1 L117.6,163.4 L118.6,162.7 L119.5,162.0 L120.4,161.3 L121.4,160.7 L122.4,160.0 L123.3,159.3 L124.3,158.6 L125.2,158.0 L126.2,157.3 L127.2,156.7 L128.1,156.0 L129.1,155.4 L130.1,154.7 L131.0,154.1 L132.0,153.5 L133.0,152.8 L134.0,152.2 L135.0,151.6 L136.0,151.0 L137.0,150.3 L137.9,149.7 L138.9,149.1 L139.9,148.5 L140.9,147.9 L141.9,147.3 L142.9,146.7 L143.9,146.1 L145.0,145.5 L146.0,145.0 L147.0,144.4 L148.0,143.8 L149.0,143.2 L150.0,142.6 L151.0,142.1 L152.1,141.5 L153.1,140.9 L154.1,140.4 L155.1,139.8 L156.1,139.3 L157.2,138.7 L158.2,138.2 L159.2,137.6 L160.3,137.1 L161.3,136.5 L162.3,136.0 L163.4,135.4 L164.4,134.9 L165.4,134.4 L166.5,133.8 L167.5,133.3 L168.6,132.8 L169.6,132.3 L170.6,131.7 L171.7,131.2 L172.7,130.7 L173.8,130.2 L174.8,129.7 L175.9,129.2 L176.9,128.7 L178.0,128.1 L179.0,127.6 L180.1,127.1 L181.1,126.6 L182.2,126.1 L183.2,125.6 L184.3,125.2 L185.4,124.7 L186.4,124.2 L187.5,123.7 L188.5,123.2 L189.6,122.7 L190.7,122.2 L191.7,121.7 L192.8,121.3 L193.8,120.8 L194.9,120.3 L196.0,119.8 L197.0,119.4 L198.1,118.9 L199.2,118.4 L200.2,118.0 L201.3,117.5 L202.4,117.0 L203.5,116.6 L204.5,116.1 L205.6,115.6 L206.7,115.2 L207.7,114.7 L208.8,114.3 L209.9,113.8 L211.0,113.4 L212.0,112.9 L213.1,112.5 L214.2,112.0 L215.3,111.6 L216.4,111.1 L217.4,110.7 L218.5,110.3 L219.6,109.8 L220.7,109.4 L221.8,108.9 L222.8,108.5 L223.9,108.1 L225.0,107.6 L226.1,107.2 L227.2,106.8 L228.3,106.3 L229.3,105.9 L230.4,105.5 L231.5,105.1 L232.6,104.6 L233.7,104.2 L234.8,103.8 L235.9,103.4 L237.0,103.0 L238.1,102.6 L239.1,102.1 L240.2,101.7 L241.3,101.3 L242.4,100.9 L243.5,100.5 L244.6,100.1 L245.7,99.7 L246.8,99.3 L247.9,98.9 L249.0,98.5 L250.1,98.1 L251.2,97.6 L252.3,97.2 L253.4,96.8 L254.4,96.4 L255.5,96.1 L256.6,95.7 L257.7,95.3 L258.8,94.9 L259.9,94.5 L261.0,94.1 L262.1,93.7 L263.2,93.3 L264.3,92.9 L265.4,92.5 L266.5,92.1 L267.6,91.8 L268.7,91.4 L269.8,91.0 L270.9,90.6 L272.0,90.2 L273.1,89.8 L274.2,89.5 L275.4,89.1 L276.5,88.7 L277.6,88.3 L278.7,88.0 L279.8,87.6 L280.9,87.2 L282.0,86.8 L283.1,86.5 L284.2,86.1 L285.3,85.7 L286.4,85.4 L287.5,85.0 L288.6,84.6 L289.7,84.3 L290.8,83.9 L291.9,83.5 L293.1,83.2 L294.2,82.8 L295.3,82.4 L296.4,82.1 L297.5,81.7 L298.6,81.4 L299.7,81.0 L300.8,80.6 L301.9,80.3 L303.0,79.9 L304.2,79.6 L305.3,79.2 L306.4,78.9 L307.5,78.5 L308.6,78.2 L309.7,77.8 L310.8,77.5 L311.9,77.1 L313.1,76.8 L314.2,76.4 L315.3,76.1 L316.4,75.8 L317.5,75.4 L318.6,75.1 L319.7,74.7 L320.9,74.4 L322.0,74.0 L323.1,73.7 L324.2,73.4 L325.3,73.0 L326.4,72.7 L327.6,72.4 L328.7,72.0 L329.8,71.7 L330.9,71.4 L332.0,71.0 L333.1,70.7 L334.3,70.4 L335.4,70.0 L336.5,69.7 L337.6,69.4 L338.7,69.0 L339.9,68.7 L341.0,68.4 L342.1,68.1 L343.2,67.7 L344.3,67.4 L345.5,67.1 L346.6,66.8 L347.7,66.4 L348.8,66.1 L349.9,65.8 L351.1,65.5 L352.2,65.2 L353.3,64.8 L354.4,64.5 L355.6,64.2 L356.7,63.9 L357.8,63.6 L358.9,63.3 L360.1,62.9 L361.2,62.6 L362.3,62.3 L363.4,62.0 L364.5,61.7 L365.7,61.4 L366.8,61.1 L367.9,60.8 L369.0,60.5 L370.2,60.2 L371.3,59.9 L372.4,59.5 L373.5,59.2 L374.7,58.9 L375.8,58.6 L376.9,58.3 L378.1,58.0 L379.2,57.7 L380.3,57.4 L381.4,57.1 L382.6,56.8 L383.7,56.5 L384.8,56.2 L385.9,55.9 L387.1,55.6 L388.2,55.3 L389.3,55.0 L390.5,54.7 L391.6,54.4 L392.7,54.2 L393.8,53.9 L395.0,53.6 L396.1,53.3 L397.2,53.0 L398.4,52.7 L399.5,52.4 L400.6,52.1 L401.8,51.8 L402.9,51.5 L404.0,51.2 L405.1,51.0 L406.3,50.7 L407.4,50.4 L408.5,50.1 L409.7,49.8 L410.8,49.5 L411.9,49.3 L413.1,49.0 L414.2,48.7 L415.3,48.4 L416.5,48.1 L417.6,47.8 L418.7,47.6 L419.9,47.3 L421.0,47.0 L422.1,46.7 L423.3,46.5 L424.4,46.2 L425.5,45.9 L426.7,45.6 L427.8,45.4 L428.9,45.1 L430.1,44.8 L431.2,44.5 L432.3,44.3 L433.5,44.0 L434.6,43.7 L435.7,43.5 L436.9,43.2 L438.0,42.9" stroke="#ffb061" stroke-width="1.6"/>
<path d="M50.2,373.6 L50.3,372.5 L50.3,371.4 L50.4,370.3 L50.5,369.2 L50.5,368.0 L50.6,366.9 L50.7,365.8 L50.7,364.7 L50.8,363.6 L50.9,362.5 L50.9,361.4 L51.0,360.3 L51.0,359.1 L51.1,358.0 L51.2,356.9 L51.2,355.8 L51.3,354.7 L51.4,353.6 L51.4,352.5 L51.5,351.4 L51.6,350.2 L51.6,349.1 L51.7,348.0 L51.8,346.9 L51.8,345.8 L51.9,344.7 L52.0,343.6 L52.1,342.5 L52.1,341.4 L52.2,340.2 L52.3,339.1 L52.3,338.0 L52.4,336.9 L52.4,335.8 L52.5,334.7 L52.6,333.6 L52.6,332.5 L52.7,331.3 L52.7,330.2 L52.8,329.1 L52.9,328.0 L52.9,326.9 L53.0,325.8 L53.0,324.7 L53.1,323.5 L53.2,322.4 L53.2,321.3 L53.3,320.2 L53.4,319.1 L53.5,318.0 L53.5,316.9 L53.6,315.8 L53.7,314.7 L53.8,313.5 L53.9,312.4 L54.0,311.3 L54.1,310.2 L54.2,309.1 L54.3,308.0 L54.5,306.9 L54.7,305.8 L54.8,304.7 L55.0,303.6 L55.2,302.5 L55.3,301.4 L55.5,300.3 L55.6,299.2 L55.7,298.1 L55.8,297.0 L56.0,295.9 L56.1,294.8 L56.2,293.7 L56.3,292.5 L56.4,291.4 L56.5,290.3 L56.7,289.2 L56.8,288.1 L56.9,287.0 L57.0,285.9 L57.1,284.8 L57.2,283.7 L57.3,282.6 L57.5,281.5 L57.6,280.4 L57.7,279.2 L57.8,278.1 L57.9,277.0 L58.1,275.9 L58.2,274.8 L58.3,273.7 L58.4,272.6 L58.5,271.5 L58.6,270.4 L58.8,269.3 L58.9,268.2 L59.0,267.1 L59.1,266.0 L59.3,264.8 L59.4,263.7 L59.5,262.6 L59.6,261.5 L59.8,260.4 L59.9,259.3 L60.0,257.9 L60.0,256.4 L60.1,255.1 L60.3,254.0 L60.5,253.5 L61.4,253.4 L62.1,252.6 L62.5,251.5 L62.9,250.5 L63.2,249.4 L63.5,248.3 L63.8,247.3 L64.2,246.2 L64.5,245.1 L64.8,244.1 L65.1,243.0 L65.5,241.9 L65.8,240.9 L66.2,239.8 L66.6,238.8 L66.9,237.7 L67.3,236.7 L67.7,235.7 L68.1,234.6 L68.6,233.6 L69.0,232.6 L69.5,231.5 L69.9,230.5 L70.4,229.5 L70.9,228.5 L71.4,227.5 L71.9,226.6 L72.5,225.6 L73.0,224.6 L73.6,223.6 L74.1,222.7 L74.7,221.7 L75.3,220.8 L75.9,219.9 L76.5,218.9 L77.2,218.0 L77.8,217.1 L78.4,216.2 L79.1,215.3 L79.8,214.4 L80.4,213.5 L81.1,212.6 L81.8,211.8 L82.5,210.9 L83.2,210.0 L84.0,209.2 L84.7,208.3 L85.4,207.5 L86.2,206.7 L86.9,205.9 L87.7,205.0 L88.4,204.2 L89.2,203.4 L90.0,202.6 L90.8,201.8 L91.6,201.1 L92.4,200.3 L93.2,199.5 L94.0,198.7 L94.8,198.0 L95.6,197.2 L96.4,196.5 L97.3,195.7 L98.1,195.0 L98.9,194.3 L99.8,193.5 L100.6,192.8 L101.5,192.1 L102.3,191.4 L103.2,190.7 L104.1,190.0 L104.9,189.3 L105.8,188.6 L106.7,187.9 L107.6,187.2 L108.5,186.5 L109.3,185.9 L110.2,185.2 L111.1,184.5 L112.0,183.9 L112.9,183.2 L113.8,182.6 L114.7,181.9 L115.6,181.3 L116.6,180.7 L117.5,180.0 L118.4,179.4 L119.3,178.8 L120.2,178.1 L121.2,177.5 L122.1,176.9 L123.0,176.3 L124.0,175.7 L124.9,175.1 L125.9,174.5 L126.8,173.9 L127.7,173.3 L128.7,172.7 L129.6,172.2 L130.6,171.6 L131.5,171.0 L132.5,170.4 L133.5,169.9 L134.4,169.3 L135.4,168.7 L136.3,168.2 L137.3,167.6 L138.3,167.1 L139.2,166.5 L140.2,166.0 L141.2,165.4 L142.2,164.9 L143.1,164.4 L144.1,163.8 L145.1,163.3 L146.1,162.8 L147.1,162.2 L148.1,161.7 L149.0,161.2 L150.0,160.7 L151.0,160.2 L152.0,159.7 L153.0,159.2 L154.0,158.7 L155.0,158.2 L156.0,157.7 L157.0,157.2 L158.0,156.7 L159.0,156.2 L160.0,155.7 L161.0,155.2 L162.0,154.7 L163.0,154.2 L164.0,153.8 L165.0,153.3 L166.0,152.8 L167.0,152.3 L168.0,151.9 L169.0,151.4 L170.1,150.9 L171.1,150.5 L172.1,150.0 L173.1,149.6 L174.1,149.1 L175.1,148.7 L176.2,148.2 L177.2,147.8 L178.2,147.3 L179.2,146.9 L180.2,146.4 L181.3,146.0 L182.3,145.6 L183.3,145.1 L184.3,144.7 L185.4,144.3 L186.4,143.8 L187.4,143.4 L188.5,143.0 L189.5,142.6 L190.5,142.1 L191.6,141.7 L192.6,141.3 L193.6,140.9 L194.7,140.5 L195.7,140.1 L196.7,139.6 L197.8,139.2 L198.8,138.8 L199.8,138.4 L200.9,138.0 L201.9,137.6 L203.0,137.2 L204.0,136.8 L205.0,136.4 L206.1,136.0 L207.1,135.6 L208.2,135.2 L209.2,134.9 L210.2,134.5 L211.3,134.1 L212.3,133.7 L213.4,133.3 L214.4,132.9 L215.5,132.6 L216.5,132.2 L217.6,131.8 L218.6,131.4 L219.7,131.0 L220.7,130.7 L221.8,130.3 L222.8,129.9 L223.9,129.6 L224.9,129.2 L226.0,128.8 L227.0,128.5 L228.1,128.1 L229.1,127.7 L230.2,127.4 L231.2,127.0 L232.3,126.7 L233.3,126.3 L234.4,125.9 L235.5,125.6 L236.5,125.2 L237.6,124.9 L238.6,124.5 L239.7,124.2 L240.7,123.8 L241.8,123.5 L242.9,123.1 L243.9,122.8 L245.0,122.4 L246.0,122.1 L247.1,121.8 L248.2,121.4 L249.2,121.1 L250.3,120.7 L251.3,120.4 L252.4,120.1 L253.5,119.7 L254.5,119.4 L255.6,119.1 L256.7,118.7 L257.7,118.4 L258.8,118.1 L259.9,117.8 L260.9,117.4 L262.0,117.1 L263.0,116.8 L264.1,116.5 L265.2,116.1 L266.2,115.8 L267.3,115.5 L268.4,115.2 L269.4,114.8 L270.5,114.5 L271.6,114.2 L272.7,113.9 L273.7,113.6 L274.8,113.3 L275.9,112.9 L276.9,112.6 L278.0,112.3 L279.1,112.0 L280.1,111.7 L281.2,111.4 L282.3,111.1 L283.3,110.8 L284.4,110.5 L285.5,110.2 L286.6,109.9 L287.6,109.5 L288.7,109.2 L289.8,108.9 L290.8,108.6 L291.9,108.3 L293.0,108.0 L294.1,107.7 L295.1,107.4 L296.2,107.1 L297.3,106.8 L298.4,106.5 L299.4,106.2 L300.5,106.0 L301.6,105.7 L302.7,105.4 L303.7,105.1 L304.8,104.8 L305.9,104.5 L307.0,104.2 L308.0,103.9 L309.1,103.6 L310.2,103.3 L311.3,103.0 L312.3,102.7 L313.4,102.5 L314.5,102.2 L315.6,101.9 L316.6,101.6 L317.7,101.3 L318.8,101.0 L319.9,100.8 L320.9,100.5 L322.0,100.2 L323.1,99.9 L324.2,99.6 L325.3,99.3 L326.3,99.1 L327.4,98.8 L328.5,98.5 L329.6,98.2 L330.7,98.0 L331.7,97.7 L332.8,97.4 L333.9,97.1 L335.0,96.9 L336.0,96.6 L337.1,96.3 L338.2,96.0 L339.3,95.8 L340.4,95.5 L341.4,95.2 L342.5,94.9 L343.6,94.7 L344.7,94.4 L345.8,94.1 L346.9,93.9 L347.9,93.6 L349.0,93.3 L350.1,93.1 L351.2,92.8 L352.3,92.5 L353.3,92.3 L354.4,92.0 L355.5,91.7 L356.6,91.5 L357.7,91.2 L358.8,90.9 L359.8,90.7 L360.9,90.4 L362.0,90.1 L363.1,89.9 L364.2,89.6 L365.2,89.4 L366.3,89.1 L367.4,88.8 L368.5,88.6 L369.6,88.3 L370.7,88.1 L371.7,87.8 L372.8,87.5 L373.9,87.3 L375.0,87.0 L376.1,86.8 L377.2,86.5 L378.3,86.3 L379.3,86.0 L380.4,85.8 L381.5,85.5 L382.6,85.2 L383.7,85.0 L384.8,84.7 L385.8,84.5 L386.9,84.2 L388.0,84.0 L389.1,83.7 L390.2,83.5 L391.3,83.2 L392.4,83.0 L393.4,82.7 L394.5,82.5 L395.6,82.2 L396.7,82.0 L397.8,81.7 L398.9,81.5 L400.0,81.2 L401.0,81.0 L402.1,80.7 L403.2,80.5 L404.3,80.2 L405.4,80.0 L406.5,79.7 L407.6,79.5 L408.6,79.2 L409.7,79.0 L410.8,78.8 L411.9,78.5 L413.0,78.3 L414.1,78.0 L415.2,77.8 L416.2,77.5 L417.3,77.3 L418.4,77.0 L419.5,76.8 L420.6,76.6 L421.7,76.3 L422.8,76.1 L423.9,75.8 L424.9,75.6 L426.0,75.3 L427.1,75.1 L428.2,74.9 L429.3,74.6 L430.4,74.4 L431.5,74.1 L432.6,73.9 L433.6,73.7 L434.7,73.4 L435.8,73.2 L436.9,73.0 L438.0,72.7" stroke="#ff7f0e" stroke-width="2.5"/>
<path d="M50.2,373.6 L50.3,372.5 L50.3,371.4 L50.4,370.3 L50.5,369.3 L50.5,368.2 L50.6,367.1 L50.6,366.0 L50.7,364.9 L50.8,363.8 L50.8,362.7 L50.9,361.6 L51.0,360.6 L51.0,359.5 L51.1,358.4 L51.2,357.3 L51.2,356.2 L51.3,355.1 L51.4,354.0 L51.4,352.9 L51.5,351.9 L51.5,350.8 L51.6,349.7 L51.7,348.6 L51.7,347.5 L51.8,346.4 L51.9,345.3 L51.9,344.2 L52.0,343.2 L52.1,342.1 L52.1,341.0 L52.2,339.9 L52.3,338.8 L52.3,337.7 L52.4,336.6 L52.5,335.5 L52.5,334.5 L52.6,333.4 L52.6,332.3 L52.7,331.2 L52.7,330.1 L52.8,329.0 L52.9,327.9 L52.9,326.8 L53.0,325.7 L53.0,324.7 L53.1,323.6 L53.2,322.5 L53.2,321.4 L53.3,320.3 L53.4,319.2 L53.4,318.1 L53.5,317.0 L53.6,316.0 L53.7,314.9 L53.8,313.8 L53.9,312.7 L53.9,311.6 L54.0,310.5 L54.2,309.5 L54.3,308.4 L54.4,307.3 L54.6,306.2 L54.8,305.1 L54.9,304.1 L55.1,303.0 L55.2,301.9 L55.4,300.8 L55.5,299.8 L55.7,298.7 L55.8,297.6 L55.9,296.5 L56.0,295.4 L56.1,294.3 L56.2,293.3 L56.4,292.2 L56.5,291.1 L56.6,290.0 L56.7,288.9 L56.8,287.8 L56.9,286.8 L57.0,285.7 L57.1,284.6 L57.2,283.5 L57.4,282.4 L57.5,281.3 L57.6,280.3 L57.7,279.2 L57.8,278.1 L57.9,277.0 L58.1,275.9 L58.2,274.8 L58.3,273.8 L58.4,272.7 L58.5,271.6 L58.6,270.5 L58.8,269.4 L58.9,268.3 L59.0,267.3 L59.1,266.2 L59.2,265.1 L59.3,264.0 L59.5,262.9 L59.6,261.8 L59.7,260.8 L59.8,259.7 L59.9,258.4 L60.0,256.9 L60.1,255.6 L60.2,254.4 L60.4,253.7 L60.9,253.5 L62.0,253.5 L63.0,253.1 L63.7,252.3 L64.3,251.4 L64.7,250.4 L65.2,249.4 L65.6,248.4 L66.0,247.4 L66.4,246.3 L66.8,245.3 L67.2,244.3 L67.6,243.3 L68.0,242.3 L68.4,241.3 L68.9,240.3 L69.3,239.3 L69.8,238.3 L70.2,237.3 L70.7,236.4 L71.2,235.4 L71.7,234.4 L72.2,233.5 L72.8,232.5 L73.3,231.6 L73.9,230.6 L74.5,229.7 L75.1,228.8 L75.7,227.9 L76.3,227.0 L76.9,226.1 L77.6,225.3 L78.3,224.4 L78.9,223.5 L79.6,222.7 L80.3,221.9 L81.0,221.0 L81.8,220.2 L82.5,219.4 L83.2,218.6 L84.0,217.8 L84.8,217.1 L85.5,216.3 L86.3,215.5 L87.1,214.8 L87.9,214.0 L88.7,213.3 L89.5,212.6 L90.3,211.8 L91.1,211.1 L91.9,210.4 L92.8,209.7 L93.6,209.0 L94.4,208.3 L95.3,207.6 L96.1,206.9 L97.0,206.3 L97.9,205.6 L98.7,204.9 L99.6,204.3 L100.5,203.6 L101.3,203.0 L102.2,202.3 L103.1,201.7 L104.0,201.1 L104.9,200.4 L105.8,199.8 L106.7,199.2 L107.6,198.6 L108.5,198.0 L109.4,197.3 L110.3,196.7 L111.2,196.1 L112.1,195.5 L113.0,195.0 L113.9,194.4 L114.8,193.8 L115.8,193.2 L116.7,192.6 L117.6,192.1 L118.5,191.5 L119.5,190.9 L120.4,190.4 L121.3,189.8 L122.3,189.2 L123.2,188.7 L124.2,188.1 L125.1,187.6 L126.0,187.0 L127.0,186.5 L127.9,186.0 L128.9,185.4 L129.8,184.9 L130.8,184.4 L131.7,183.9 L132.7,183.3 L133.7,182.8 L134.6,182.3 L135.6,181.8 L136.5,181.3 L137.5,180.8 L138.5,180.3 L139.4,179.8 L140.4,179.3 L141.4,178.8 L142.3,178.3 L143.3,177.8 L144.3,177.3 L145.3,176.8 L146.2,176.3 L147.2,175.8 L148.2,175.4 L149.2,174.9 L150.2,174.4 L151.1,174.0 L152.1,173.5 L153.1,173.0 L154.1,172.6 L155.1,172.1 L156.1,171.6 L157.1,171.2 L158.1,170.7 L159.0,170.3 L160.0,169.8 L161.0,169.4 L162.0,168.9 L163.0,168.5 L164.0,168.1 L165.0,167.6 L166.0,167.2 L167.0,166.7 L168.0,166.3 L169.0,165.9 L170.0,165.5 L171.0,165.0 L172.0,164.6 L173.0,164.2 L174.0,163.8 L175.0,163.4 L176.0,162.9 L177.1,162.5 L178.1,162.1 L179.1,161.7 L180.1,161.3 L181.1,160.9 L182.1,160.5 L183.1,160.1 L184.1,159.7 L185.1,159.3 L186.2,158.9 L187.2,158.5 L188.2,158.1 L189.2,157.7 L190.2,157.3 L191.2,157.0 L192.3,156.6 L193.3,156.2 L194.3,155.8 L195.3,155.4 L196.3,155.0 L197.4,154.7 L198.4,154.3 L199.4,153.9 L200.4,153.6 L201.5,153.2 L202.5,152.8 L203.5,152.4 L204.5,152.1 L205.6,151.7 L206.6,151.4 L207.6,151.0 L208.7,150.6 L209.7,150.3 L210.7,149.9 L211.7,149.6 L212.8,149.2 L213.8,148.9 L214.8,148.5 L215.9,148.2 L216.9,147.8 L217.9,147.5 L219.0,147.1 L220.0,146.8 L221.0,146.5 L222.1,146.1 L223.1,145.8 L224.1,145.5 L225.2,145.1 L226.2,144.8 L227.3,144.4 L228.3,144.1 L229.3,143.8 L230.4,143.5 L231.4,143.1 L232.4,142.8 L233.5,142.5 L234.5,142.2 L235.6,141.8 L236.6,141.5 L237.6,141.2 L238.7,140.9 L239.7,140.6 L240.8,140.2 L241.8,139.9 L242.9,139.6 L243.9,139.3 L244.9,139.0 L246.0,138.7 L247.0,138.4 L248.1,138.1 L249.1,137.8 L250.2,137.5 L251.2,137.2 L252.3,136.9 L253.3,136.5 L254.4,136.2 L255.4,135.9 L256.5,135.6 L257.5,135.3 L258.5,135.1 L259.6,134.8 L260.6,134.5 L261.7,134.2 L262.7,133.9 L263.8,133.6 L264.8,133.3 L265.9,133.0 L266.9,132.7 L268.0,132.4 L269.0,132.1 L270.1,131.9 L271.1,131.6 L272.2,131.3 L273.2,131.0 L274.3,130.7 L275.4,130.4 L276.4,130.2 L277.5,129.9 L278.5,129.6 L279.6,129.3 L280.6,129.0 L281.7,128.8 L282.7,128.5 L283.8,128.2 L284.8,127.9 L285.9,127.7 L286.9,127.4 L288.0,127.1 L289.0,126.9 L290.1,126.6 L291.2,126.3 L292.2,126.0 L293.3,125.8 L294.3,125.5 L295.4,125.2 L296.4,125.0 L297.5,124.7 L298.6,124.5 L299.6,124.2 L300.7,123.9 L301.7,123.7 L302.8,123.4 L303.8,123.1 L304.9,122.9 L306.0,122.6 L307.0,122.4 L308.1,122.1 L309.1,121.9 L310.2,121.6 L311.2,121.3 L312.3,121.1 L313.4,120.8 L314.4,120.6 L315.5,120.3 L316.5,120.1 L317.6,119.8 L318.7,119.6 L319.7,119.3 L320.8,119.1 L321.8,118.8 L322.9,118.6 L324.0,118.3 L325.0,118.1 L326.1,117.8 L327.2,117.6 L328.2,117.3 L329.3,117.1 L330.3,116.9 L331.4,116.6 L332.5,116.4 L333.5,116.1 L334.6,115.9 L335.6,115.6 L336.7,115.4 L337.8,115.2 L338.8,114.9 L339.9,114.7 L341.0,114.4 L342.0,114.2 L343.1,114.0 L344.1,113.7 L345.2,113.5 L346.3,113.3 L347.3,113.0 L348.4,112.8 L349.5,112.6 L350.5,112.3 L351.6,112.1 L352.7,111.9 L353.7,111.6 L354.8,111.4 L355.8,111.2 L356.9,110.9 L358.0,110.7 L359.0,110.5 L360.1,110.2 L361.2,110.0 L362.2,109.8 L363.3,109.5 L364.4,109.3 L365.4,109.1 L366.5,108.9 L367.6,108.6 L368.6,108.4 L369.7,108.2 L370.8,107.9 L371.8,107.7 L372.9,107.5 L373.9,107.3 L375.0,107.0 L376.1,106.8 L377.1,106.6 L378.2,106.4 L379.3,106.1 L380.3,105.9 L381.4,105.7 L382.5,105.5 L383.5,105.3 L384.6,105.0 L385.7,104.8 L386.7,104.6 L387.8,104.4 L388.9,104.2 L389.9,103.9 L391.0,103.7 L392.1,103.5 L393.1,103.3 L394.2,103.1 L395.3,102.8 L396.3,102.6 L397.4,102.4 L398.5,102.2 L399.5,102.0 L400.6,101.7 L401.7,101.5 L402.7,101.3 L403.8,101.1 L404.9,100.9 L406.0,100.7 L407.0,100.5 L408.1,100.2 L409.2,100.0 L410.2,99.8 L411.3,99.6 L412.4,99.4 L413.4,99.2 L414.5,98.9 L415.6,98.7 L416.6,98.5 L417.7,98.3 L418.8,98.1 L419.8,97.9 L420.9,97.7 L422.0,97.5 L423.0,97.2 L424.1,97.0 L425.2,96.8 L426.2,96.6 L427.3,96.4 L428.4,96.2 L429.4,96.0 L430.5,95.8 L431.6,95.6 L432.7,95.4 L433.7,95.1 L434.8,94.9 L435.9,94.7 L436.9,94.5 L438.0,94.3" stroke="#ff7f0e" stroke-width="1.7" stroke-dasharray="6.6 3.7"/>
<path d="M50.5,374.2 L50.5,373.1 L50.6,372.0 L50.6,370.9 L50.7,369.8 L50.8,368.6 L50.8,367.5 L50.9,366.4 L51.0,365.3 L51.0,364.2 L51.1,363.1 L51.2,362.0 L51.2,360.9 L51.3,359.7 L51.4,358.6 L51.4,357.5 L51.5,356.4 L51.6,355.3 L51.6,354.2 L51.7,353.1 L51.8,352.0 L51.8,350.8 L51.9,349.7 L52.0,348.6 L52.0,347.5 L52.1,346.4 L52.2,345.3 L52.2,344.2 L52.3,343.1 L52.4,342.0 L52.4,340.8 L52.5,339.7 L52.6,338.6 L52.6,337.5 L52.7,336.4 L52.8,335.3 L52.8,334.2 L52.9,333.1 L52.9,331.9 L53.0,330.8 L53.0,329.7 L53.1,328.6 L53.2,327.5 L53.2,326.4 L53.3,325.3 L53.4,324.1 L53.4,323.0 L53.5,321.9 L53.6,320.8 L53.6,319.7 L53.7,318.6 L53.8,317.5 L53.9,316.4 L53.9,315.3 L54.0,314.1 L54.1,313.0 L54.2,311.9 L54.3,310.8 L54.5,309.7 L54.6,308.6 L54.7,307.5 L54.9,306.4 L55.1,305.3 L55.2,304.2 L55.4,303.1 L55.6,302.0 L55.7,300.9 L55.8,299.8 L56.0,298.7 L56.1,297.6 L56.2,296.5 L56.3,295.4 L56.5,294.3 L56.6,293.1 L56.7,292.0 L56.8,290.9 L56.9,289.8 L57.0,288.7 L57.1,287.6 L57.2,286.5 L57.4,285.4 L57.5,284.3 L57.6,283.2 L57.7,282.1 L57.8,281.0 L57.9,279.8 L58.1,278.7 L58.2,277.6 L58.3,276.5 L58.4,275.4 L58.5,274.3 L58.7,273.2 L58.8,272.1 L58.9,271.0 L59.0,269.9 L59.1,268.8 L59.3,267.7 L59.4,266.6 L59.5,265.4 L59.6,264.3 L59.7,263.2 L59.9,262.1 L60.0,261.0 L60.1,259.9 L60.2,258.5 L60.3,257.0 L60.4,255.7 L60.5,254.6 L60.8,254.1 L61.7,254.0 L62.3,253.2 L62.8,252.1 L63.1,251.1 L63.5,250.0 L63.8,248.9 L64.1,247.9 L64.4,246.8 L64.7,245.7 L65.1,244.7 L65.4,243.6 L65.7,242.5 L66.1,241.5 L66.4,240.4 L66.8,239.4 L67.2,238.3 L67.6,237.3 L68.0,236.3 L68.4,235.2 L68.8,234.2 L69.3,233.2 L69.7,232.1 L70.2,231.1 L70.7,230.1 L71.2,229.1 L71.7,228.1 L72.2,227.2 L72.7,226.2 L73.3,225.2 L73.8,224.2 L74.4,223.3 L75.0,222.3 L75.6,221.4 L76.2,220.5 L76.8,219.5 L77.4,218.6 L78.0,217.7 L78.7,216.8 L79.3,215.9 L80.0,215.0 L80.7,214.1 L81.4,213.2 L82.1,212.4 L82.8,211.5 L83.5,210.6 L84.2,209.8 L84.9,208.9 L85.7,208.1 L86.4,207.3 L87.2,206.5 L87.9,205.6 L88.7,204.8 L89.5,204.0 L90.2,203.2 L91.0,202.4 L91.8,201.7 L92.6,200.9 L93.4,200.1 L94.2,199.3 L95.0,198.6 L95.9,197.8 L96.7,197.1 L97.5,196.3 L98.3,195.6 L99.2,194.9 L100.0,194.1 L100.9,193.4 L101.7,192.7 L102.6,192.0 L103.5,191.3 L104.3,190.6 L105.2,189.9 L106.1,189.2 L106.9,188.5 L107.8,187.8 L108.7,187.1 L109.6,186.5 L110.5,185.8 L111.4,185.1 L112.3,184.5 L113.2,183.8 L114.1,183.2 L115.0,182.5 L115.9,181.9 L116.8,181.3 L117.7,180.6 L118.6,180.0 L119.6,179.4 L120.5,178.7 L121.4,178.1 L122.4,177.5 L123.3,176.9 L124.2,176.3 L125.2,175.7 L126.1,175.1 L127.0,174.5 L128.0,173.9 L128.9,173.3 L129.9,172.8 L130.8,172.2 L131.8,171.6 L132.7,171.0 L133.7,170.5 L134.7,169.9 L135.6,169.3 L136.6,168.8 L137.6,168.2 L138.5,167.7 L139.5,167.1 L140.5,166.6 L141.4,166.0 L142.4,165.5 L143.4,165.0 L144.4,164.4 L145.4,163.9 L146.3,163.4 L147.3,162.8 L148.3,162.3 L149.3,161.8 L150.3,161.3 L151.3,160.8 L152.3,160.3 L153.2,159.8 L154.2,159.3 L155.2,158.8 L156.2,158.3 L157.2,157.8 L158.2,157.3 L159.2,156.8 L160.2,156.3 L161.2,155.8 L162.2,155.3 L163.2,154.8 L164.2,154.4 L165.3,153.9 L166.3,153.4 L167.3,152.9 L168.3,152.5 L169.3,152.0 L170.3,151.5 L171.3,151.1 L172.3,150.6 L173.4,150.2 L174.4,149.7 L175.4,149.3 L176.4,148.8 L177.4,148.4 L178.4,147.9 L179.5,147.5 L180.5,147.0 L181.5,146.6 L182.5,146.2 L183.6,145.7 L184.6,145.3 L185.6,144.9 L186.6,144.4 L187.7,144.0 L188.7,143.6 L189.7,143.2 L190.8,142.7 L191.8,142.3 L192.8,141.9 L193.9,141.5 L194.9,141.1 L195.9,140.7 L197.0,140.2 L198.0,139.8 L199.0,139.4 L200.1,139.0 L201.1,138.6 L202.2,138.2 L203.2,137.8 L204.2,137.4 L205.3,137.0 L206.3,136.6 L207.4,136.2 L208.4,135.8 L209.5,135.5 L210.5,135.1 L211.5,134.7 L212.6,134.3 L213.6,133.9 L214.7,133.5 L215.7,133.2 L216.8,132.8 L217.8,132.4 L218.9,132.0 L219.9,131.6 L221.0,131.3 L222.0,130.9 L223.1,130.5 L224.1,130.2 L225.2,129.8 L226.2,129.4 L227.3,129.1 L228.3,128.7 L229.4,128.3 L230.4,128.0 L231.5,127.6 L232.5,127.3 L233.6,126.9 L234.7,126.5 L235.7,126.2 L236.8,125.8 L237.8,125.5 L238.9,125.1 L239.9,124.8 L241.0,124.4 L242.1,124.1 L243.1,123.7 L244.2,123.4 L245.2,123.0 L246.3,122.7 L247.4,122.4 L248.4,122.0 L249.5,121.7 L250.5,121.3 L251.6,121.0 L252.7,120.7 L253.7,120.3 L254.8,120.0 L255.8,119.7 L256.9,119.3 L258.0,119.0 L259.0,118.7 L260.1,118.4 L261.2,118.0 L262.2,117.7 L263.3,117.4 L264.4,117.1 L265.4,116.7 L266.5,116.4 L267.6,116.1 L268.6,115.8 L269.7,115.4 L270.8,115.1 L271.8,114.8 L272.9,114.5 L274.0,114.2 L275.0,113.9 L276.1,113.5 L277.2,113.2 L278.2,112.9 L279.3,112.6 L280.4,112.3 L281.5,112.0 L282.5,111.7 L283.6,111.4 L284.7,111.1 L285.7,110.8 L286.8,110.5 L287.9,110.1 L289.0,109.8 L290.0,109.5 L291.1,109.2 L292.2,108.9 L293.2,108.6 L294.3,108.3 L295.4,108.0 L296.5,107.7 L297.5,107.4 L298.6,107.1 L299.7,106.8 L300.8,106.6 L301.8,106.3 L302.9,106.0 L304.0,105.7 L305.1,105.4 L306.1,105.1 L307.2,104.8 L308.3,104.5 L309.4,104.2 L310.4,103.9 L311.5,103.6 L312.6,103.3 L313.7,103.1 L314.7,102.8 L315.8,102.5 L316.9,102.2 L318.0,101.9 L319.0,101.6 L320.1,101.4 L321.2,101.1 L322.3,100.8 L323.4,100.5 L324.4,100.2 L325.5,99.9 L326.6,99.7 L327.7,99.4 L328.7,99.1 L329.8,98.8 L330.9,98.6 L332.0,98.3 L333.1,98.0 L334.1,97.7 L335.2,97.5 L336.3,97.2 L337.4,96.9 L338.5,96.6 L339.5,96.4 L340.6,96.1 L341.7,95.8 L342.8,95.5 L343.9,95.3 L344.9,95.0 L346.0,94.7 L347.1,94.5 L348.2,94.2 L349.3,93.9 L350.3,93.7 L351.4,93.4 L352.5,93.1 L353.6,92.9 L354.7,92.6 L355.8,92.3 L356.8,92.1 L357.9,91.8 L359.0,91.5 L360.1,91.3 L361.2,91.0 L362.2,90.7 L363.3,90.5 L364.4,90.2 L365.5,90.0 L366.6,89.7 L367.7,89.4 L368.7,89.2 L369.8,88.9 L370.9,88.7 L372.0,88.4 L373.1,88.1 L374.2,87.9 L375.2,87.6 L376.3,87.4 L377.4,87.1 L378.5,86.9 L379.6,86.6 L380.7,86.4 L381.8,86.1 L382.8,85.8 L383.9,85.6 L385.0,85.3 L386.1,85.1 L387.2,84.8 L388.3,84.6 L389.3,84.3 L390.4,84.1 L391.5,83.8 L392.6,83.6 L393.7,83.3 L394.8,83.1 L395.9,82.8 L396.9,82.6 L398.0,82.3 L399.1,82.1 L400.2,81.8 L401.3,81.6 L402.4,81.3 L403.5,81.1 L404.5,80.8 L405.6,80.6 L406.7,80.3 L407.8,80.1 L408.9,79.8 L410.0,79.6 L411.1,79.4 L412.2,79.1 L413.2,78.9 L414.3,78.6 L415.4,78.4 L416.5,78.1 L417.6,77.9 L418.7,77.6 L419.8,77.4 L420.8,77.2 L421.9,76.9 L423.0,76.7 L424.1,76.4 L425.2,76.2 L426.3,75.9 L427.4,75.7 L428.5,75.5 L429.5,75.2 L430.6,75.0 L431.7,74.7 L432.8,74.5 L433.9,74.3 L435.0,74.0 L436.1,73.8 L437.2,73.6 L438.2,73.3" stroke="#ffa246" stroke-width="0.9" stroke-dasharray="5 3.4"/>
<path d="M50.2,373.6 L50.3,372.5 L50.3,371.5 L50.4,370.4 L50.4,369.3 L50.5,368.3 L50.6,367.2 L50.6,366.1 L50.7,365.1 L50.8,364.0 L50.8,362.9 L50.9,361.8 L51.0,360.8 L51.0,359.7 L51.1,358.6 L51.1,357.6 L51.2,356.5 L51.3,355.4 L51.3,354.4 L51.4,353.3 L51.5,352.2 L51.5,351.2 L51.6,350.1 L51.7,349.0 L51.7,348.0 L51.8,346.9 L51.8,345.8 L51.9,344.8 L52.0,343.7 L52.0,342.6 L52.1,341.6 L52.2,340.5 L52.2,339.4 L52.3,338.3 L52.4,337.3 L52.4,336.2 L52.5,335.1 L52.5,334.1 L52.6,333.0 L52.6,331.9 L52.7,330.9 L52.8,329.8 L52.8,328.7 L52.9,327.7 L52.9,326.6 L53.0,325.5 L53.1,324.4 L53.1,323.4 L53.2,322.3 L53.2,321.2 L53.3,320.2 L53.4,319.1 L53.4,318.0 L53.5,317.0 L53.6,315.9 L53.7,314.8 L53.8,313.8 L53.9,312.7 L53.9,311.6 L54.0,310.6 L54.2,309.5 L54.3,308.5 L54.4,307.4 L54.6,306.3 L54.7,305.3 L54.9,304.2 L55.1,303.2 L55.2,302.1 L55.4,301.0 L55.5,300.0 L55.6,298.9 L55.8,297.9 L55.9,296.8 L56.0,295.7 L56.1,294.7 L56.2,293.6 L56.3,292.5 L56.4,291.5 L56.5,290.4 L56.6,289.3 L56.8,288.3 L56.9,287.2 L57.0,286.1 L57.1,285.1 L57.2,284.0 L57.3,283.0 L57.4,281.9 L57.5,280.8 L57.6,279.8 L57.8,278.7 L57.9,277.6 L58.0,276.6 L58.1,275.5 L58.2,274.4 L58.3,273.4 L58.4,272.3 L58.6,271.2 L58.7,270.2 L58.8,269.1 L58.9,268.1 L59.0,267.0 L59.1,265.9 L59.3,264.9 L59.4,263.8 L59.5,262.7 L59.6,261.7 L59.7,260.6 L59.9,259.5 L60.0,258.5 L60.1,257.4 L60.2,256.3 L60.3,255.3 L60.5,254.2 L60.7,253.2 L61.2,252.3 L61.9,251.4 L62.5,250.5 L63.1,249.6 L63.7,248.8 L64.3,247.9 L64.9,247.0 L65.5,246.1 L66.2,245.3 L66.8,244.4 L67.4,243.6 L68.1,242.7 L68.8,241.9 L69.4,241.0 L70.1,240.2 L70.8,239.4 L71.5,238.5 L72.2,237.7 L72.9,236.9 L73.6,236.1 L74.3,235.3 L75.0,234.5 L75.7,233.7 L76.4,233.0 L77.2,232.2 L77.9,231.4 L78.7,230.6 L79.4,229.9 L80.2,229.1 L81.0,228.4 L81.7,227.6 L82.5,226.9 L83.3,226.2 L84.1,225.4 L84.9,224.7 L85.6,224.0 L86.4,223.3 L87.3,222.6 L88.1,221.9 L88.9,221.2 L89.7,220.5 L90.5,219.8 L91.3,219.1 L92.2,218.5 L93.0,217.8 L93.8,217.1 L94.7,216.5 L95.5,215.8 L96.4,215.2 L97.2,214.5 L98.1,213.9 L98.9,213.2 L99.8,212.6 L100.7,212.0 L101.5,211.3 L102.4,210.7 L103.3,210.1 L104.2,209.5 L105.1,208.9 L105.9,208.3 L106.8,207.7 L107.7,207.1 L108.6,206.5 L109.5,205.9 L110.4,205.3 L111.3,204.8 L112.2,204.2 L113.1,203.6 L114.0,203.1 L114.9,202.5 L115.9,201.9 L116.8,201.4 L117.7,200.8 L118.6,200.3 L119.5,199.7 L120.5,199.2 L121.4,198.7 L122.3,198.1 L123.2,197.6 L124.2,197.1 L125.1,196.6 L126.0,196.0 L127.0,195.5 L127.9,195.0 L128.9,194.5 L129.8,194.0 L130.7,193.5 L131.7,193.0 L132.6,192.5 L133.6,192.0 L134.5,191.5 L135.5,191.0 L136.4,190.5 L137.4,190.1 L138.4,189.6 L139.3,189.1 L140.3,188.6 L141.2,188.2 L142.2,187.7 L143.2,187.2 L144.1,186.8 L145.1,186.3 L146.1,185.8 L147.0,185.4 L148.0,184.9 L149.0,184.5 L149.9,184.0 L150.9,183.6 L151.9,183.2 L152.9,182.7 L153.8,182.3 L154.8,181.8 L155.8,181.4 L156.8,181.0 L157.8,180.6 L158.7,180.1 L159.7,179.7 L160.7,179.3 L161.7,178.9 L162.7,178.4 L163.7,178.0 L164.7,177.6 L165.6,177.2 L166.6,176.8 L167.6,176.4 L168.6,176.0 L169.6,175.6 L170.6,175.2 L171.6,174.8 L172.6,174.4 L173.6,174.0 L174.6,173.6 L175.6,173.2 L176.6,172.8 L177.6,172.5 L178.6,172.1 L179.6,171.7 L180.6,171.3 L181.6,170.9 L182.6,170.6 L183.6,170.2 L184.6,169.8 L185.6,169.4 L186.6,169.1 L187.6,168.7 L188.6,168.3 L189.6,168.0 L190.6,167.6 L191.6,167.2 L192.6,166.9 L193.6,166.5 L194.6,166.2 L195.6,165.8 L196.7,165.5 L197.7,165.1 L198.7,164.8 L199.7,164.4 L200.7,164.1 L201.7,163.7 L202.7,163.4 L203.7,163.0 L204.8,162.7 L205.8,162.3 L206.8,162.0 L207.8,161.7 L208.8,161.3 L209.8,161.0 L210.9,160.7 L211.9,160.3 L212.9,160.0 L213.9,159.7 L214.9,159.3 L215.9,159.0 L217.0,158.7 L218.0,158.4 L219.0,158.0 L220.0,157.7 L221.0,157.4 L222.1,157.1 L223.1,156.8 L224.1,156.5 L225.1,156.1 L226.2,155.8 L227.2,155.5 L228.2,155.2 L229.2,154.9 L230.3,154.6 L231.3,154.3 L232.3,154.0 L233.3,153.7 L234.4,153.4 L235.4,153.1 L236.4,152.8 L237.4,152.5 L238.5,152.2 L239.5,151.9 L240.5,151.6 L241.5,151.3 L242.6,151.0 L243.6,150.7 L244.6,150.4 L245.7,150.1 L246.7,149.8 L247.7,149.5 L248.8,149.2 L249.8,148.9 L250.8,148.6 L251.8,148.4 L252.9,148.1 L253.9,147.8 L254.9,147.5 L256.0,147.2 L257.0,146.9 L258.0,146.7 L259.1,146.4 L260.1,146.1 L261.1,145.8 L262.2,145.5 L263.2,145.3 L264.2,145.0 L265.3,144.7 L266.3,144.5 L267.3,144.2 L268.4,143.9 L269.4,143.6 L270.4,143.4 L271.5,143.1 L272.5,142.8 L273.6,142.6 L274.6,142.3 L275.6,142.0 L276.7,141.8 L277.7,141.5 L278.7,141.2 L279.8,141.0 L280.8,140.7 L281.9,140.5 L282.9,140.2 L283.9,139.9 L285.0,139.7 L286.0,139.4 L287.0,139.2 L288.1,138.9 L289.1,138.7 L290.2,138.4 L291.2,138.2 L292.2,137.9 L293.3,137.6 L294.3,137.4 L295.4,137.1 L296.4,136.9 L297.4,136.6 L298.5,136.4 L299.5,136.2 L300.6,135.9 L301.6,135.7 L302.7,135.4 L303.7,135.2 L304.7,134.9 L305.8,134.7 L306.8,134.4 L307.9,134.2 L308.9,134.0 L309.9,133.7 L311.0,133.5 L312.0,133.2 L313.1,133.0 L314.1,132.8 L315.2,132.5 L316.2,132.3 L317.3,132.1 L318.3,131.8 L319.3,131.6 L320.4,131.3 L321.4,131.1 L322.5,130.9 L323.5,130.6 L324.6,130.4 L325.6,130.2 L326.7,130.0 L327.7,129.7 L328.7,129.5 L329.8,129.3 L330.8,129.0 L331.9,128.8 L332.9,128.6 L334.0,128.4 L335.0,128.1 L336.1,127.9 L337.1,127.7 L338.2,127.5 L339.2,127.2 L340.2,127.0 L341.3,126.8 L342.3,126.6 L343.4,126.3 L344.4,126.1 L345.5,125.9 L346.5,125.7 L347.6,125.5 L348.6,125.3 L349.7,125.0 L350.7,124.8 L351.8,124.6 L352.8,124.4 L353.9,124.2 L354.9,124.0 L356.0,123.7 L357.0,123.5 L358.1,123.3 L359.1,123.1 L360.2,122.9 L361.2,122.7 L362.3,122.5 L363.3,122.2 L364.4,122.0 L365.4,121.8 L366.5,121.6 L367.5,121.4 L368.6,121.2 L369.6,121.0 L370.7,120.8 L371.7,120.6 L372.8,120.4 L373.8,120.2 L374.9,120.0 L375.9,119.7 L377.0,119.5 L378.0,119.3 L379.1,119.1 L380.1,118.9 L381.2,118.7 L382.2,118.5 L383.3,118.3 L384.3,118.1 L385.4,117.9 L386.4,117.7 L387.5,117.5 L388.5,117.3 L389.6,117.1 L390.6,116.9 L391.7,116.7 L392.7,116.5 L393.8,116.3 L394.8,116.1 L395.9,115.9 L396.9,115.7 L398.0,115.5 L399.0,115.3 L400.1,115.1 L401.1,114.9 L402.2,114.8 L403.2,114.6 L404.3,114.4 L405.3,114.2 L406.4,114.0 L407.4,113.8 L408.5,113.6 L409.6,113.4 L410.6,113.2 L411.7,113.0 L412.7,112.8 L413.8,112.6 L414.8,112.4 L415.9,112.3 L416.9,112.1 L418.0,111.9 L419.0,111.7 L420.1,111.5 L421.1,111.3 L422.2,111.1 L423.2,110.9 L424.3,110.8 L425.3,110.6 L426.4,110.4 L427.5,110.2 L428.5,110.0 L429.6,109.8 L430.6,109.6 L431.7,109.5 L432.7,109.3 L433.8,109.1 L434.8,108.9 L435.9,108.7 L436.9,108.5 L438.0,108.4" stroke="#00a000" stroke-width="2.35"/>
<path d="M50.2,373.6 L50.3,372.5 L50.3,371.5 L50.4,370.4 L50.4,369.4 L50.5,368.3 L50.6,367.3 L50.6,366.2 L50.7,365.2 L50.8,364.1 L50.8,363.1 L50.9,362.0 L50.9,360.9 L51.0,359.9 L51.1,358.8 L51.1,357.8 L51.2,356.7 L51.3,355.7 L51.3,354.6 L51.4,353.6 L51.4,352.5 L51.5,351.5 L51.6,350.4 L51.6,349.4 L51.7,348.3 L51.8,347.2 L51.8,346.2 L51.9,345.1 L52.0,344.1 L52.0,343.0 L52.1,342.0 L52.1,340.9 L52.2,339.9 L52.3,338.8 L52.3,337.8 L52.4,336.7 L52.5,335.6 L52.5,334.6 L52.6,333.5 L52.6,332.5 L52.7,331.4 L52.7,330.4 L52.8,329.3 L52.8,328.3 L52.9,327.2 L53.0,326.1 L53.0,325.1 L53.1,324.0 L53.1,323.0 L53.2,321.9 L53.3,320.9 L53.3,319.8 L53.4,318.8 L53.5,317.7 L53.5,316.7 L53.6,315.6 L53.7,314.6 L53.8,313.5 L53.9,312.4 L54.0,311.4 L54.1,310.3 L54.2,309.3 L54.3,308.3 L54.5,307.2 L54.6,306.2 L54.8,305.1 L54.9,304.1 L55.1,303.0 L55.2,302.0 L55.4,300.9 L55.5,299.9 L55.6,298.8 L55.8,297.8 L55.9,296.7 L56.0,295.7 L56.1,294.6 L56.2,293.6 L56.3,292.5 L56.4,291.5 L56.5,290.4 L56.6,289.4 L56.8,288.3 L56.9,287.3 L57.0,286.2 L57.1,285.2 L57.2,284.1 L57.3,283.1 L57.4,282.0 L57.5,281.0 L57.6,279.9 L57.7,278.9 L57.8,277.8 L57.9,276.8 L58.0,275.7 L58.1,274.7 L58.2,273.6 L58.3,272.6 L58.5,271.5 L58.6,270.5 L58.7,269.4 L58.9,268.4 L59.0,267.3 L59.2,266.2 L59.4,265.1 L59.5,264.1 L59.7,263.0 L60.0,262.0 L60.3,261.0 L60.7,260.1 L61.4,259.4 L62.1,258.6 L62.7,257.7 L63.2,256.8 L63.7,255.9 L64.3,255.0 L64.8,254.0 L65.3,253.1 L65.8,252.2 L66.3,251.3 L66.9,250.4 L67.4,249.5 L68.0,248.6 L68.5,247.7 L69.1,246.8 L69.6,245.9 L70.2,245.0 L70.8,244.1 L71.4,243.3 L72.0,242.4 L72.7,241.5 L73.3,240.7 L73.9,239.9 L74.6,239.0 L75.2,238.2 L75.9,237.4 L76.6,236.6 L77.3,235.8 L78.0,235.0 L78.7,234.2 L79.4,233.4 L80.2,232.7 L80.9,231.9 L81.6,231.2 L82.4,230.4 L83.2,229.7 L83.9,229.0 L84.7,228.3 L85.5,227.6 L86.3,226.9 L87.1,226.2 L87.9,225.5 L88.7,224.8 L89.5,224.1 L90.3,223.5 L91.2,222.8 L92.0,222.2 L92.8,221.5 L93.7,220.9 L94.5,220.3 L95.4,219.7 L96.3,219.0 L97.1,218.4 L98.0,217.8 L98.9,217.2 L99.7,216.7 L100.6,216.1 L101.5,215.5 L102.4,214.9 L103.3,214.4 L104.2,213.8 L105.1,213.2 L106.0,212.7 L106.9,212.1 L107.8,211.6 L108.7,211.1 L109.6,210.5 L110.5,210.0 L111.4,209.5 L112.4,209.0 L113.3,208.4 L114.2,207.9 L115.1,207.4 L116.1,206.9 L117.0,206.4 L117.9,205.9 L118.9,205.4 L119.8,204.9 L120.7,204.5 L121.7,204.0 L122.6,203.5 L123.6,203.0 L124.5,202.6 L125.5,202.1 L126.4,201.6 L127.3,201.2 L128.3,200.7 L129.3,200.2 L130.2,199.8 L131.2,199.3 L132.1,198.9 L133.1,198.5 L134.0,198.0 L135.0,197.6 L136.0,197.1 L136.9,196.7 L137.9,196.3 L138.9,195.8 L139.8,195.4 L140.8,195.0 L141.8,194.6 L142.7,194.1 L143.7,193.7 L144.7,193.3 L145.6,192.9 L146.6,192.5 L147.6,192.1 L148.6,191.7 L149.5,191.3 L150.5,190.9 L151.5,190.5 L152.5,190.1 L153.4,189.7 L154.4,189.3 L155.4,188.9 L156.4,188.5 L157.4,188.1 L158.4,187.7 L159.3,187.3 L160.3,187.0 L161.3,186.6 L162.3,186.2 L163.3,185.8 L164.3,185.4 L165.2,185.1 L166.2,184.7 L167.2,184.3 L168.2,183.9 L169.2,183.6 L170.2,183.2 L171.2,182.8 L172.2,182.5 L173.2,182.1 L174.2,181.8 L175.2,181.4 L176.1,181.0 L177.1,180.7 L178.1,180.3 L179.1,180.0 L180.1,179.6 L181.1,179.3 L182.1,178.9 L183.1,178.6 L184.1,178.2 L185.1,177.9 L186.1,177.5 L187.1,177.2 L188.1,176.9 L189.1,176.5 L190.1,176.2 L191.1,175.8 L192.1,175.5 L193.1,175.2 L194.1,174.8 L195.1,174.5 L196.1,174.2 L197.1,173.8 L198.1,173.5 L199.1,173.2 L200.1,172.9 L201.1,172.5 L202.1,172.2 L203.2,171.9 L204.2,171.6 L205.2,171.2 L206.2,170.9 L207.2,170.6 L208.2,170.3 L209.2,170.0 L210.2,169.7 L211.2,169.3 L212.2,169.0 L213.2,168.7 L214.2,168.4 L215.2,168.1 L216.3,167.8 L217.3,167.5 L218.3,167.2 L219.3,166.9 L220.3,166.6 L221.3,166.3 L222.3,166.0 L223.3,165.6 L224.3,165.3 L225.4,165.0 L226.4,164.8 L227.4,164.5 L228.4,164.2 L229.4,163.9 L230.4,163.6 L231.4,163.3 L232.5,163.0 L233.5,162.7 L234.5,162.4 L235.5,162.1 L236.5,161.8 L237.5,161.5 L238.6,161.2 L239.6,161.0 L240.6,160.7 L241.6,160.4 L242.6,160.1 L243.6,159.8 L244.7,159.5 L245.7,159.3 L246.7,159.0 L247.7,158.7 L248.7,158.4 L249.8,158.1 L250.8,157.9 L251.8,157.6 L252.8,157.3 L253.8,157.0 L254.9,156.8 L255.9,156.5 L256.9,156.2 L257.9,156.0 L258.9,155.7 L260.0,155.4 L261.0,155.2 L262.0,154.9 L263.0,154.6 L264.0,154.4 L265.1,154.1 L266.1,153.8 L267.1,153.6 L268.1,153.3 L269.2,153.0 L270.2,152.8 L271.2,152.5 L272.2,152.3 L273.3,152.0 L274.3,151.7 L275.3,151.5 L276.3,151.2 L277.4,151.0 L278.4,150.7 L279.4,150.5 L280.4,150.2 L281.5,150.0 L282.5,149.7 L283.5,149.5 L284.5,149.2 L285.6,149.0 L286.6,148.7 L287.6,148.5 L288.6,148.2 L289.7,148.0 L290.7,147.7 L291.7,147.5 L292.8,147.3 L293.8,147.0 L294.8,146.8 L295.8,146.5 L296.9,146.3 L297.9,146.1 L298.9,145.8 L300.0,145.6 L301.0,145.3 L302.0,145.1 L303.0,144.9 L304.1,144.6 L305.1,144.4 L306.1,144.2 L307.2,143.9 L308.2,143.7 L309.2,143.5 L310.3,143.2 L311.3,143.0 L312.3,142.8 L313.3,142.5 L314.4,142.3 L315.4,142.1 L316.4,141.9 L317.5,141.6 L318.5,141.4 L319.5,141.2 L320.6,141.0 L321.6,140.7 L322.6,140.5 L323.7,140.3 L324.7,140.1 L325.7,139.9 L326.8,139.6 L327.8,139.4 L328.8,139.2 L329.9,139.0 L330.9,138.8 L331.9,138.6 L333.0,138.3 L334.0,138.1 L335.0,137.9 L336.1,137.7 L337.1,137.5 L338.1,137.3 L339.2,137.1 L340.2,136.9 L341.2,136.6 L342.3,136.4 L343.3,136.2 L344.3,136.0 L345.4,135.8 L346.4,135.6 L347.5,135.4 L348.5,135.2 L349.5,135.0 L350.6,134.8 L351.6,134.6 L352.6,134.4 L353.7,134.2 L354.7,134.0 L355.7,133.8 L356.8,133.6 L357.8,133.4 L358.9,133.2 L359.9,133.0 L360.9,132.8 L362.0,132.6 L363.0,132.4 L364.0,132.2 L365.1,132.0 L366.1,131.8 L367.2,131.6 L368.2,131.4 L369.2,131.2 L370.3,131.0 L371.3,130.8 L372.4,130.6 L373.4,130.4 L374.4,130.3 L375.5,130.1 L376.5,129.9 L377.5,129.7 L378.6,129.5 L379.6,129.3 L380.7,129.1 L381.7,128.9 L382.7,128.8 L383.8,128.6 L384.8,128.4 L385.9,128.2 L386.9,128.0 L387.9,127.8 L389.0,127.7 L390.0,127.5 L391.1,127.3 L392.1,127.1 L393.2,126.9 L394.2,126.8 L395.2,126.6 L396.3,126.4 L397.3,126.2 L398.4,126.1 L399.4,125.9 L400.4,125.7 L401.5,125.5 L402.5,125.4 L403.6,125.2 L404.6,125.0 L405.7,124.8 L406.7,124.7 L407.7,124.5 L408.8,124.3 L409.8,124.2 L410.9,124.0 L411.9,123.8 L412.9,123.7 L414.0,123.5 L415.0,123.3 L416.1,123.2 L417.1,123.0 L418.2,122.8 L419.2,122.7 L420.2,122.5 L421.3,122.3 L422.3,122.2 L423.4,122.0 L424.4,121.8 L425.5,121.7 L426.5,121.5 L427.6,121.4 L428.6,121.2 L429.6,121.0 L430.7,120.9 L431.7,120.7 L432.8,120.6 L433.8,120.4 L434.9,120.3 L435.9,120.1 L437.0,119.9 L438.0,119.8" stroke="#00a000" stroke-width="1.7" stroke-dasharray="5.7 3.5"/>
</g>
<path d="M50.3,0V373.6H424.1V0" fill="none" stroke="#909090" stroke-width="1.7"/>
<path d="M49.5,0.3H425" stroke="#222" stroke-width="0.9"/>
<path d="M50.3,373.6v-3.6M50.3,0.5v3.6M62.8,373.6v-2.2M62.8,0.5v2.2M75.2,373.6v-2.2M75.2,0.5v2.2M87.7,373.6v-2.2M87.7,0.5v2.2M100.1,373.6v-2.2M100.1,0.5v2.2M112.6,373.6v-3.6M112.6,0.5v3.6M125.0,373.6v-2.2M125.0,0.5v2.2M137.5,373.6v-2.2M137.5,0.5v2.2M150.0,373.6v-2.2M150.0,0.5v2.2M162.4,373.6v-2.2M162.4,0.5v2.2M174.9,373.6v-3.6M174.9,0.5v3.6M187.3,373.6v-2.2M187.3,0.5v2.2M199.8,373.6v-2.2M199.8,0.5v2.2M212.2,373.6v-2.2M212.2,0.5v2.2M224.7,373.6v-2.2M224.7,0.5v2.2M237.2,373.6v-3.6M237.2,0.5v3.6M249.6,373.6v-2.2M249.6,0.5v2.2M262.1,373.6v-2.2M262.1,0.5v2.2M274.5,373.6v-2.2M274.5,0.5v2.2M287.0,373.6v-2.2M287.0,0.5v2.2M299.4,373.6v-3.6M299.4,0.5v3.6M311.9,373.6v-2.2M311.9,0.5v2.2M324.4,373.6v-2.2M324.4,0.5v2.2M336.8,373.6v-2.2M336.8,0.5v2.2M349.3,373.6v-2.2M349.3,0.5v2.2M361.7,373.6v-3.6M361.7,0.5v3.6M374.2,373.6v-2.2M374.2,0.5v2.2M386.6,373.6v-2.2M386.6,0.5v2.2M399.1,373.6v-2.2M399.1,0.5v2.2M411.6,373.6v-2.2M411.6,0.5v2.2M424.0,373.6v-3.6M424.0,0.5v3.6M50.2,373.6h4M424.3,373.6h-4M50.2,361.6h2.2M424.3,361.6h-2.2M50.2,349.5h2.2M424.3,349.5h-2.2M50.2,337.5h2.2M424.3,337.5h-2.2M50.2,325.4h2.2M424.3,325.4h-2.2M50.2,313.4h4M424.3,313.4h-4M50.2,301.4h2.2M424.3,301.4h-2.2M50.2,289.4h2.2M424.3,289.4h-2.2M50.2,277.5h2.2M424.3,277.5h-2.2M50.2,265.5h2.2M424.3,265.5h-2.2M50.2,253.5h4M424.3,253.5h-4M50.2,241.5h2.2M424.3,241.5h-2.2M50.2,229.5h2.2M424.3,229.5h-2.2M50.2,217.5h2.2M424.3,217.5h-2.2M50.2,205.5h2.2M424.3,205.5h-2.2M50.2,193.5h4M424.3,193.5h-4M50.2,181.4h2.2M424.3,181.4h-2.2M50.2,169.3h2.2M424.3,169.3h-2.2M50.2,157.2h2.2M424.3,157.2h-2.2M50.2,145.1h2.2M424.3,145.1h-2.2M50.2,133.0h4M424.3,133.0h-4M50.2,120.9h2.2M424.3,120.9h-2.2M50.2,108.8h2.2M424.3,108.8h-2.2M50.2,96.7h2.2M424.3,96.7h-2.2M50.2,84.6h2.2M424.3,84.6h-2.2M50.2,72.5h4M424.3,72.5h-4M50.2,60.5h2.2M424.3,60.5h-2.2M50.2,48.5h2.2M424.3,48.5h-2.2M50.2,36.4h2.2M424.3,36.4h-2.2M50.2,24.4h2.2M424.3,24.4h-2.2M50.2,12.4h4M424.3,12.4h-4" stroke="#222" stroke-width="0.7" fill="none"/>
<text x="39.8" y="378.1" font-size="13.3" fill="#1a1a1a" stroke="#1a1a1a" stroke-width="0.2" textLength="7.3" lengthAdjust="spacingAndGlyphs">0</text>
<text x="31.9" y="317.9" font-size="13.3" fill="#1a1a1a" stroke="#1a1a1a" stroke-width="0.2" textLength="15.2" lengthAdjust="spacingAndGlyphs">50</text>
<text x="24.0" y="258.0" font-size="13.3" fill="#1a1a1a" stroke="#1a1a1a" stroke-width="0.2" textLength="23.1" lengthAdjust="spacingAndGlyphs">100</text>
<text x="24.0" y="198.0" font-size="13.3" fill="#1a1a1a" stroke="#1a1a1a" stroke-width="0.2" textLength="23.1" lengthAdjust="spacingAndGlyphs">150</text>
<text x="24.0" y="137.5" font-size="13.3" fill="#1a1a1a" stroke="#1a1a1a" stroke-width="0.2" textLength="23.1" lengthAdjust="spacingAndGlyphs">200</text>
<text x="24.0" y="77.0" font-size="13.3" fill="#1a1a1a" stroke="#1a1a1a" stroke-width="0.2" textLength="23.1" lengthAdjust="spacingAndGlyphs">250</text>
<text x="24.0" y="16.9" font-size="13.3" fill="#1a1a1a" stroke="#1a1a1a" stroke-width="0.2" textLength="23.1" lengthAdjust="spacingAndGlyphs">300</text>
<text x="32.5" y="387.5" font-size="13.3" fill="#1a1a1a" stroke="#1a1a1a" stroke-width="0.2" textLength="34.8" lengthAdjust="spacingAndGlyphs">0.000</text>
<text x="94.8" y="387.5" font-size="13.3" fill="#1a1a1a" stroke="#1a1a1a" stroke-width="0.2" textLength="34.8" lengthAdjust="spacingAndGlyphs">0.005</text>
<text x="157.1" y="387.5" font-size="13.3" fill="#1a1a1a" stroke="#1a1a1a" stroke-width="0.2" textLength="34.8" lengthAdjust="spacingAndGlyphs">0.010</text>
<text x="219.4" y="387.5" font-size="13.3" fill="#1a1a1a" stroke="#1a1a1a" stroke-width="0.2" textLength="34.8" lengthAdjust="spacingAndGlyphs">0.015</text>
<text x="281.6" y="387.5" font-size="13.3" fill="#1a1a1a" stroke="#1a1a1a" stroke-width="0.2" textLength="34.8" lengthAdjust="spacingAndGlyphs">0.020</text>
<text x="343.9" y="387.5" font-size="13.3" fill="#1a1a1a" stroke="#1a1a1a" stroke-width="0.2" textLength="34.8" lengthAdjust="spacingAndGlyphs">0.025</text>
<text x="406.2" y="387.5" font-size="13.3" fill="#1a1a1a" stroke="#1a1a1a" stroke-width="0.2" textLength="34.8" lengthAdjust="spacingAndGlyphs">0.030</text>
<g fill="#1a1a1a" stroke="#1a1a1a" stroke-width="0.2"><text x="226.4" y="409.4" font-size="15.2" font-style="italic" textLength="9" lengthAdjust="spacingAndGlyphs">E</text>
<text x="235.7" y="411.5" font-size="11" textLength="11.9" lengthAdjust="spacingAndGlyphs">eq</text></g>
<g transform="translate(12.7,218.9) rotate(-90)" fill="#1a1a1a" stroke="#1a1a1a" stroke-width="0.2"><text x="0" y="0" font-size="15" textLength="8.6" lengthAdjust="spacingAndGlyphs">Σ</text><text x="9" y="3.2" font-size="11" textLength="11.9" lengthAdjust="spacingAndGlyphs">eq</text><text x="25.7" y="0" font-size="15" textLength="36.4" lengthAdjust="spacingAndGlyphs">[MPa]</text></g>
<rect x="104" y="1" width="192" height="57.5" fill="#fff" fill-opacity="0.65"/>
<g font-size="12.45" fill="#111"><text x="105.7" y="20.5">Metal matrix and ceramic particles</text><text x="105.8" y="37.7">BCC arrangement</text><text x="105.8" y="54.9">f<tspan font-size="8.5" dy="2.5">i</tspan><tspan dy="-2.5">=30%</tspan></text></g>
<g font-size="9" fill="#929292"><text x="67" y="89.6">Ceramic</text><text x="67" y="103.2">phase</text></g>
<rect x="74" y="227.5" width="31" height="48" fill="#fff" fill-opacity="0.55"/>
<g font-size="10.8" fill="#929292"><text x="74.1" y="238.6">Metal</text><text x="74.4" y="255">matrix</text><text x="74.4" y="271.6">phase</text></g>
<rect x="122" y="251" width="81" height="37" fill="#fff" fill-opacity="0.65"/><rect x="242" y="217.7" width="140" height="18.5" fill="#fff" fill-opacity="0.85"/>
<g font-size="12.5" fill="#111"><text x="125.4" y="265">Direction in</text><text x="125.5" y="282.1">cluster model</text><text x="244.9" y="229.5">Models and linearization</text></g>
<rect x="119.2" y="291.5" width="86.5" height="37.3" rx="7" ry="7" fill="#fff" fill-opacity="0.9" stroke="#222" stroke-width="1.2"/>
<path d="M121.5,299.9H155.2" stroke="#86a318" stroke-width="2" stroke-dasharray="5 2.15"/>
<path d="M121.5,320.3H157.1" stroke="#86a318" stroke-width="2"/>
<text x="163.2" y="304.1" font-size="13.2" fill="#111" stroke="#111" stroke-width="0.15" textLength="40.2" lengthAdjust="spacingAndGlyphs">(0,0,1)</text>
<text x="163.2" y="324.5" font-size="13.2" fill="#111" stroke="#111" stroke-width="0.15" textLength="40.2" lengthAdjust="spacingAndGlyphs">(1,1,1)</text>
<rect x="210.3" y="240.1" width="203.4" height="117.4" rx="4" ry="4" fill="#fff" fill-opacity="0.88" stroke="#111" stroke-width="1.1"/>
<path d="M212.1,247.5H239" stroke="#1a1a1a" stroke-width="1.3"/><path d="M212.1,268.05H239" stroke="#111" stroke-width="2.1"/>
<path d="M212.1,288.5H239" stroke="#000" stroke-width="2"/>
<circle cx="225.4" cy="248.4" r="4.1" fill="#fff" fill-opacity="0.8" stroke="#2a2a2a" stroke-width="0.8"/>
<circle cx="225.4" cy="268.8" r="4.1" fill="#000"/>
<rect x="221.9" y="284.7" width="7.1" height="7.2" fill="#000"/>
<path d="M212.1,309H239" stroke="#ffb061" stroke-width="2"/>
<path d="M212.1,329.5H239" stroke="#ff8005" stroke-width="3.7"/>
<path d="M212.1,349.9H239" stroke="#00a400" stroke-width="3.9"/>
<text x="244.9" y="251.6" font-size="13.2" fill="#111" stroke="#111" stroke-width="0.15" textLength="80.9" lengthAdjust="spacingAndGlyphs">MT – tangent</text>
<text x="244.9" y="272.0" font-size="13.2" fill="#111" stroke="#111" stroke-width="0.15" textLength="139.3" lengthAdjust="spacingAndGlyphs">MT – modified tangent</text>
<text x="244.9" y="292.3" font-size="13.2" fill="#111" stroke="#111" stroke-width="0.15" textLength="67.9" lengthAdjust="spacingAndGlyphs">MT – affine</text>
<text x="244.9" y="312.7" font-size="13.2" fill="#111" stroke="#111" stroke-width="0.15" textLength="106.8" lengthAdjust="spacingAndGlyphs">Cluster – tangent</text>
<text x="244.9" y="333.0" font-size="13.2" fill="#111" stroke="#111" stroke-width="0.15" textLength="165" lengthAdjust="spacingAndGlyphs">Cluster – modified tangent</text>
<text x="244.9" y="353.4" font-size="13.2" fill="#111" stroke="#111" stroke-width="0.15" textLength="94" lengthAdjust="spacingAndGlyphs">Cluster – affine</text>
</svg>
</body></html>
